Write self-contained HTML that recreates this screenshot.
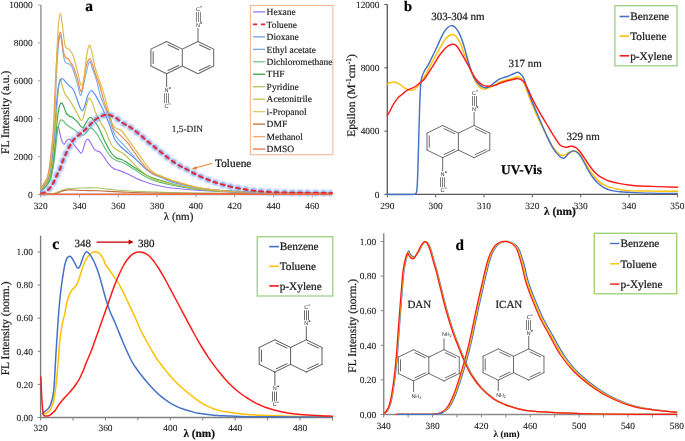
<!DOCTYPE html>
<html><head><meta charset="utf-8"><style>
html,body{margin:0;padding:0;background:#fff;}
body{width:685px;height:441px;overflow:hidden;font-family:"Liberation Serif",serif;}
svg{display:block;filter:blur(0.3px);}
text{text-rendering:geometricPrecision;}
</style></head><body>
<svg width="685" height="441" viewBox="0 0 685 441">
<defs>
<filter id="glow" x="-20%" y="-20%" width="140%" height="140%"><feGaussianBlur stdDeviation="1.3"/></filter>
</defs>
<rect width="685" height="441" fill="#fff"/>
<line x1="40.9" y1="5" x2="40.9" y2="195.3" stroke="#a0a0a0" stroke-width="1.6" />
<line x1="37.9" y1="194.5" x2="40.9" y2="194.5" stroke="#a0a0a0" stroke-width="1" />
<line x1="37.9" y1="156.6" x2="40.9" y2="156.6" stroke="#a0a0a0" stroke-width="1" />
<line x1="37.9" y1="118.7" x2="40.9" y2="118.7" stroke="#a0a0a0" stroke-width="1" />
<line x1="37.9" y1="80.8" x2="40.9" y2="80.8" stroke="#a0a0a0" stroke-width="1" />
<line x1="37.9" y1="42.9" x2="40.9" y2="42.9" stroke="#a0a0a0" stroke-width="1" />
<line x1="37.9" y1="5" x2="40.9" y2="5" stroke="#a0a0a0" stroke-width="1" />
<text x="32.6" y="197.7" font-size="9.4" text-anchor="end" font-weight="normal" fill="#1a1a1a" font-family="'Liberation Serif', serif" stroke="#1a1a1a" stroke-width="0.08" >0</text>
<text x="32.6" y="159.8" font-size="9.4" text-anchor="end" font-weight="normal" fill="#1a1a1a" font-family="'Liberation Serif', serif" stroke="#1a1a1a" stroke-width="0.08" >2000</text>
<text x="32.6" y="121.9" font-size="9.4" text-anchor="end" font-weight="normal" fill="#1a1a1a" font-family="'Liberation Serif', serif" stroke="#1a1a1a" stroke-width="0.08" >4000</text>
<text x="32.6" y="84" font-size="9.4" text-anchor="end" font-weight="normal" fill="#1a1a1a" font-family="'Liberation Serif', serif" stroke="#1a1a1a" stroke-width="0.08" >6000</text>
<text x="32.6" y="46.1" font-size="9.4" text-anchor="end" font-weight="normal" fill="#1a1a1a" font-family="'Liberation Serif', serif" stroke="#1a1a1a" stroke-width="0.08" >8000</text>
<text x="32.6" y="8.2" font-size="9.4" text-anchor="end" font-weight="normal" fill="#1a1a1a" font-family="'Liberation Serif', serif" stroke="#1a1a1a" stroke-width="0.08" >10000</text>
<line x1="40.1" y1="194.5" x2="331.9" y2="194.5" stroke="#a0a0a0" stroke-width="1.6" />
<line x1="40.7" y1="194.5" x2="40.7" y2="197.5" stroke="#a0a0a0" stroke-width="1" />
<line x1="79.49" y1="194.5" x2="79.49" y2="197.5" stroke="#a0a0a0" stroke-width="1" />
<line x1="118.28" y1="194.5" x2="118.28" y2="197.5" stroke="#a0a0a0" stroke-width="1" />
<line x1="157.07" y1="194.5" x2="157.07" y2="197.5" stroke="#a0a0a0" stroke-width="1" />
<line x1="195.86" y1="194.5" x2="195.86" y2="197.5" stroke="#a0a0a0" stroke-width="1" />
<line x1="234.65" y1="194.5" x2="234.65" y2="197.5" stroke="#a0a0a0" stroke-width="1" />
<line x1="273.44" y1="194.5" x2="273.44" y2="197.5" stroke="#a0a0a0" stroke-width="1" />
<line x1="312.23" y1="194.5" x2="312.23" y2="197.5" stroke="#a0a0a0" stroke-width="1" />
<text x="40.7" y="208.6" font-size="9.4" text-anchor="middle" font-weight="normal" fill="#1a1a1a" font-family="'Liberation Serif', serif" stroke="#1a1a1a" stroke-width="0.08" >320</text>
<text x="79.49" y="208.6" font-size="9.4" text-anchor="middle" font-weight="normal" fill="#1a1a1a" font-family="'Liberation Serif', serif" stroke="#1a1a1a" stroke-width="0.08" >340</text>
<text x="118.28" y="208.6" font-size="9.4" text-anchor="middle" font-weight="normal" fill="#1a1a1a" font-family="'Liberation Serif', serif" stroke="#1a1a1a" stroke-width="0.08" >360</text>
<text x="157.07" y="208.6" font-size="9.4" text-anchor="middle" font-weight="normal" fill="#1a1a1a" font-family="'Liberation Serif', serif" stroke="#1a1a1a" stroke-width="0.08" >380</text>
<text x="195.86" y="208.6" font-size="9.4" text-anchor="middle" font-weight="normal" fill="#1a1a1a" font-family="'Liberation Serif', serif" stroke="#1a1a1a" stroke-width="0.08" >400</text>
<text x="234.65" y="208.6" font-size="9.4" text-anchor="middle" font-weight="normal" fill="#1a1a1a" font-family="'Liberation Serif', serif" stroke="#1a1a1a" stroke-width="0.08" >420</text>
<text x="273.44" y="208.6" font-size="9.4" text-anchor="middle" font-weight="normal" fill="#1a1a1a" font-family="'Liberation Serif', serif" stroke="#1a1a1a" stroke-width="0.08" >440</text>
<text x="312.23" y="208.6" font-size="9.4" text-anchor="middle" font-weight="normal" fill="#1a1a1a" font-family="'Liberation Serif', serif" stroke="#1a1a1a" stroke-width="0.08" >460</text>
<path d="M40.9 194C42.42 193.97 47.72 193.93 50 193.8C52.28 193.67 52.93 193.67 54.6 193.2C56.27 192.73 58.05 191.7 60 191C61.95 190.3 63.55 189.47 66.3 189C69.05 188.53 73.38 188.37 76.5 188.2C79.62 188.03 81.83 188.07 85 188C88.17 187.93 92.17 187.68 95.5 187.8C98.83 187.92 102.08 188.38 105 188.7C107.92 189.02 109.33 189.35 113 189.7C116.67 190.05 122.5 190.48 127 190.8C131.5 191.12 132.83 191.3 140 191.6C147.17 191.9 156.67 192.32 170 192.6C183.33 192.88 193 193.1 220 193.3C247 193.5 313.33 193.72 332 193.8" fill="none" stroke="#aac462" stroke-width="1.15" stroke-linejoin="round" stroke-linecap="round" />
<path d="M40.9 194C43.25 193.95 51.5 194.17 55 193.7C58.5 193.23 59.53 191.83 61.9 191.2C64.27 190.57 65.55 190.02 69.2 189.9C72.85 189.78 78.93 190.35 83.8 190.5C88.67 190.65 91.1 190.52 98.4 190.8C105.7 191.08 115.67 191.8 127.6 192.2C139.53 192.6 135.93 192.93 170 193.2C204.07 193.47 305 193.7 332 193.8" fill="none" stroke="#c0703e" stroke-width="1.15" stroke-linejoin="round" stroke-linecap="round" />
<path d="M40.9 191C41.42 190.5 42.98 189.08 44 188C45.02 186.92 46.08 186 47 184.5C47.92 183 48.75 181.25 49.5 179C50.25 176.75 50.83 174.5 51.5 171C52.17 167.5 52.88 163 53.5 158C54.12 153 54.65 145.75 55.2 141C55.75 136.25 56.27 131.83 56.8 129.5C57.33 127.17 57.95 126.62 58.4 127C58.85 127.38 58.93 129.48 59.5 131.8C60.07 134.12 61.03 138.82 61.8 140.9C62.57 142.98 63.35 144.3 64.1 144.3C64.85 144.3 65.55 141.75 66.3 140.9C67.05 140.05 67.83 139.28 68.6 139.2C69.37 139.12 69.92 139.37 70.9 140.4C71.88 141.43 73.3 143.82 74.5 145.4C75.7 146.98 77.03 148.62 78.1 149.9C79.17 151.18 80.13 152.93 80.9 153.1C81.67 153.27 81.95 152.78 82.7 150.9C83.45 149.02 84.57 143.75 85.4 141.8C86.23 139.85 86.95 139.28 87.7 139.2C88.45 139.12 89.08 140.12 89.9 141.3C90.72 142.48 91.68 144.78 92.6 146.3C93.52 147.82 94.17 149.45 95.4 150.4C96.63 151.35 98.55 150.87 100 152C101.45 153.13 102.73 155.32 104.1 157.2C105.47 159.08 106.62 161.4 108.2 163.3C109.78 165.2 111.8 167.42 113.6 168.6C115.4 169.78 116.73 169.53 119 170.4C121.27 171.27 124.47 172.53 127.2 173.8C129.93 175.07 132.68 176.75 135.4 178C138.12 179.25 140.78 180.3 143.5 181.3C146.22 182.3 148.95 183.22 151.7 184C154.45 184.78 156.95 185.38 160 186C163.05 186.62 166.67 187.23 170 187.7C173.33 188.17 176.67 188.45 180 188.8C183.33 189.15 186.67 189.52 190 189.8C193.33 190.08 195.83 190.25 200 190.5C204.17 190.75 210 191.07 215 191.3C220 191.53 222.5 191.63 230 191.9C237.5 192.17 243 192.62 260 192.9C277 193.18 320 193.48 332 193.6" fill="none" stroke="#9b6ff2" stroke-width="1.15" stroke-linejoin="round" stroke-linecap="round" />
<path d="M40.9 191C41.42 190.58 42.98 189.42 44 188.5C45.02 187.58 46.08 186.67 47 185.5C47.92 184.33 48.75 183.08 49.5 181.5C50.25 179.92 50.83 178.58 51.5 176C52.17 173.42 52.83 170.33 53.5 166C54.17 161.67 54.83 155.67 55.5 150C56.17 144.33 56.83 136.67 57.5 132C58.17 127.33 58.88 124.02 59.5 122C60.12 119.98 60.53 120.05 61.2 119.9C61.87 119.75 62.65 120.33 63.5 121.1C64.35 121.87 65.27 123.57 66.3 124.5C67.33 125.43 68.57 125.95 69.7 126.7C70.83 127.45 71.77 128.05 73.1 129C74.43 129.95 76.18 131.37 77.7 132.4C79.22 133.43 80.98 134.92 82.2 135.2C83.42 135.48 83.87 135.13 85 134.1C86.13 133.07 87.95 130.03 89 129C90.05 127.97 90.35 127.52 91.3 127.9C92.25 128.28 93.67 130.15 94.7 131.3C95.73 132.45 96.62 133.52 97.5 134.8C98.38 136.08 98.68 136.63 100 139C101.32 141.37 103.58 146.03 105.4 149C107.22 151.97 109.08 154.87 110.9 156.8C112.72 158.73 114.48 159.7 116.3 160.6C118.12 161.5 119.98 161.48 121.8 162.2C123.62 162.92 124.93 163.58 127.2 164.9C129.47 166.22 132.68 168.32 135.4 170.1C138.12 171.88 140.78 174 143.5 175.6C146.22 177.2 148.95 178.57 151.7 179.7C154.45 180.83 156.95 181.55 160 182.4C163.05 183.25 166.67 184.07 170 184.8C173.33 185.53 176.67 186.18 180 186.8C183.33 187.42 186.67 188.03 190 188.5C193.33 188.97 195.83 189.2 200 189.6C204.17 190 210 190.57 215 190.9C220 191.23 222.5 191.28 230 191.6C237.5 191.92 243 192.48 260 192.8C277 193.12 320 193.38 332 193.5" fill="none" stroke="#62c07e" stroke-width="1.15" stroke-linejoin="round" stroke-linecap="round" />
<path d="M40.9 190.5C41.42 190 42.98 188.58 44 187.5C45.02 186.42 46.08 185.42 47 184C47.92 182.58 48.75 181 49.5 179C50.25 177 50.83 175.17 51.5 172C52.17 168.83 52.83 165.33 53.5 160C54.17 154.67 54.83 147 55.5 140C56.17 133 56.83 123.67 57.5 118C58.17 112.33 58.82 108.52 59.5 106C60.18 103.48 60.93 102.9 61.6 102.9C62.27 102.9 62.72 104.3 63.5 106C64.28 107.7 65.35 111.43 66.3 113.1C67.25 114.77 68.25 115.33 69.2 116C70.15 116.67 71.07 116.53 72 117.1C72.93 117.67 73.85 118.55 74.8 119.4C75.75 120.25 76.65 120.98 77.7 122.2C78.75 123.42 80.17 125.85 81.1 126.7C82.03 127.55 82.55 127.87 83.3 127.3C84.05 126.73 84.65 124.82 85.6 123.3C86.55 121.78 88.05 119.13 89 118.2C89.95 117.27 90.45 117.22 91.3 117.7C92.15 118.18 93.15 119.92 94.1 121.1C95.05 122.28 96.02 123.23 97 124.8C97.98 126.37 98.6 127.55 100 130.5C101.4 133.45 103.58 138.83 105.4 142.5C107.22 146.17 109.08 149.93 110.9 152.5C112.72 155.07 114.48 156.73 116.3 157.9C118.12 159.07 119.98 158.7 121.8 159.5C123.62 160.3 124.93 161.27 127.2 162.7C129.47 164.13 132.68 166.3 135.4 168.1C138.12 169.9 140.78 171.92 143.5 173.5C146.22 175.08 148.95 176.47 151.7 177.6C154.45 178.73 156.95 179.35 160 180.3C163.05 181.25 166.67 182.35 170 183.3C173.33 184.25 176.67 185.22 180 186C183.33 186.78 186.67 187.45 190 188C193.33 188.55 195.83 188.85 200 189.3C204.17 189.75 210 190.33 215 190.7C220 191.07 222.5 191.17 230 191.5C237.5 191.83 243 192.37 260 192.7C277 193.03 320 193.37 332 193.5" fill="none" stroke="#38a84a" stroke-width="1.15" stroke-linejoin="round" stroke-linecap="round" />
<path d="M40.9 190.5C41.42 189.92 42.98 188.25 44 187C45.02 185.75 46.08 184.67 47 183C47.92 181.33 48.75 179.5 49.5 177C50.25 174.5 50.83 172 51.5 168C52.17 164 52.83 159.33 53.5 153C54.17 146.67 54.83 138.83 55.5 130C56.17 121.17 56.92 107.67 57.5 100C58.08 92.33 58.53 87.5 59 84C59.47 80.5 59.68 78.4 60.3 79C60.92 79.6 61.85 85.03 62.7 87.6C63.55 90.17 64.27 92.33 65.4 94.4C66.53 96.47 68.28 98.17 69.5 100C70.72 101.83 71.45 103.23 72.7 105.4C73.95 107.57 75.55 110.48 77 113C78.45 115.52 80.23 120.17 81.4 120.5C82.57 120.83 83.07 117.92 84 115C84.93 112.08 86.17 105.82 87 103C87.83 100.18 88.17 98.27 89 98.1C89.83 97.93 91 99.8 92 102C93 104.2 93.7 108.17 95 111.3C96.3 114.43 98.07 117.6 99.8 120.8C101.53 124 103.78 127.15 105.4 130.5C107.02 133.85 108.13 138.03 109.5 140.9C110.87 143.77 112.02 146 113.6 147.7C115.18 149.4 117.18 149.97 119 151.1C120.82 152.23 122.45 152.8 124.5 154.5C126.55 156.2 129.03 159.03 131.3 161.3C133.57 163.57 135.6 165.83 138.1 168.1C140.6 170.37 143.58 172.97 146.3 174.9C149.02 176.83 152.12 178.68 154.4 179.7C156.68 180.72 157.4 180.37 160 181C162.6 181.63 166.67 182.7 170 183.5C173.33 184.3 176.67 185.08 180 185.8C183.33 186.52 186.67 187.23 190 187.8C193.33 188.37 195.83 188.73 200 189.2C204.17 189.67 210 190.22 215 190.6C220 190.98 222.5 191.15 230 191.5C237.5 191.85 243 192.37 260 192.7C277 193.03 320 193.37 332 193.5" fill="none" stroke="#c6bf48" stroke-width="1.15" stroke-linejoin="round" stroke-linecap="round" />
<path d="M40.9 190C41.42 189.33 42.98 187.5 44 186C45.02 184.5 46.08 183 47 181C47.92 179 48.75 177 49.5 174C50.25 171 50.83 167.67 51.5 163C52.17 158.33 52.88 153.17 53.5 146C54.12 138.83 54.62 128 55.2 120C55.78 112 56.37 104 57 98C57.63 92 58.15 87.23 59 84C59.85 80.77 61.13 79.13 62.1 78.6C63.07 78.07 63.78 79.75 64.8 80.8C65.82 81.85 67.18 83.88 68.2 84.9C69.22 85.92 70 86 70.9 86.9C71.8 87.8 72.58 88.28 73.6 90.3C74.62 92.32 75.93 96.13 77 99C78.07 101.87 79.07 105.53 80 107.5C80.93 109.47 81.77 111.22 82.6 110.8C83.43 110.38 84.1 107.63 85 105C85.9 102.37 86.92 97.38 88 95C89.08 92.62 90.33 90.77 91.5 90.7C92.67 90.63 93.62 92.5 95 94.6C96.38 96.7 98.22 100.25 99.8 103.3C101.38 106.35 102.92 109.45 104.5 112.9C106.08 116.35 107.97 120.57 109.3 124C110.63 127.43 111.58 130.92 112.5 133.5C113.42 136.08 113.55 137.42 114.8 139.5C116.05 141.58 118.3 144.17 120 146C121.7 147.83 122.52 148.42 125 150.5C127.48 152.58 131.58 155.58 134.9 158.5C138.22 161.42 141.55 165.33 144.9 168C148.25 170.67 151.32 172.5 155 174.5C158.68 176.5 163.67 178.58 167 180C170.33 181.42 169.5 181.63 175 183C180.5 184.37 190.83 186.88 200 188.2C209.17 189.52 218.33 190.18 230 190.9C241.67 191.62 253 192.08 270 192.5C287 192.92 321.67 193.25 332 193.4" fill="none" stroke="#5b8ff0" stroke-width="1.15" stroke-linejoin="round" stroke-linecap="round" />
<path d="M40.9 189C41.57 188.08 43.8 185.33 44.9 183.5C46 181.67 46.73 180.25 47.5 178C48.27 175.75 48.83 173.83 49.5 170C50.17 166.17 50.83 160.83 51.5 155C52.17 149.17 52.92 142.5 53.5 135C54.08 127.5 54.5 120 55 110C55.5 100 55.92 85.83 56.5 75C57.08 64.17 57.85 51.57 58.5 45C59.15 38.43 59.77 35.27 60.4 35.6C61.03 35.93 61.75 43.47 62.3 47C62.85 50.53 63.23 54.37 63.7 56.8C64.17 59.23 64.58 60.53 65.1 61.6C65.62 62.67 66.07 62.75 66.8 63.2C67.53 63.65 68.72 63.83 69.5 64.3C70.28 64.77 70.82 64.83 71.5 66C72.18 67.17 72.57 68.15 73.6 71.3C74.63 74.45 76.57 80.9 77.7 84.9C78.83 88.9 79.6 94.45 80.4 95.3C81.2 96.15 81.58 93.55 82.5 90C83.42 86.45 84.77 78.7 85.9 74C87.03 69.3 88.28 62.93 89.3 61.8C90.32 60.67 90.77 64.03 92 67.2C93.23 70.37 95.4 76.37 96.7 80.8C98 85.23 98.5 89.52 99.8 93.8C101.1 98.08 102.92 102.27 104.5 106.5C106.08 110.73 107.83 115.1 109.3 119.2C110.77 123.3 112.13 128.1 113.3 131.1C114.47 134.1 114.88 135.22 116.3 137.2C117.72 139.18 119.53 140.57 121.8 143C124.07 145.43 127.18 148.75 129.9 151.8C132.62 154.85 135.37 158.35 138.1 161.3C140.83 164.25 143.58 167.23 146.3 169.5C149.02 171.77 152.12 173.65 154.4 174.9C156.68 176.15 157.4 176.07 160 177C162.6 177.93 166.67 179.42 170 180.5C173.33 181.58 176.67 182.55 180 183.5C183.33 184.45 186.67 185.42 190 186.2C193.33 186.98 195.83 187.53 200 188.2C204.17 188.87 210 189.67 215 190.2C220 190.73 222.5 191 230 191.4C237.5 191.8 243 192.25 260 192.6C277 192.95 320 193.35 332 193.5" fill="none" stroke="#7fb0e6" stroke-width="1.15" stroke-linejoin="round" stroke-linecap="round" />
<path d="M40.9 188C41.57 187.02 43.8 183.95 44.9 182.1C46 180.25 46.78 179.2 47.5 176.9C48.22 174.6 48.63 172.03 49.2 168.3C49.77 164.57 50.32 159.68 50.9 154.5C51.48 149.32 52.2 142.95 52.7 137.2C53.2 131.45 53.43 129.53 53.9 120C54.37 110.47 54.9 92 55.5 80C56.1 68 56.68 55.97 57.5 48C58.32 40.03 59.42 31.65 60.4 32.2C61.38 32.75 62.57 47.1 63.4 51.3C64.23 55.5 64.62 56.17 65.4 57.4C66.18 58.63 67.18 57.77 68.1 58.7C69.02 59.63 69.98 61.58 70.9 63C71.82 64.42 72.47 64.45 73.6 67.2C74.73 69.95 76.57 75.62 77.7 79.5C78.83 83.38 79.62 89 80.4 90.5C81.18 92 81.48 92.38 82.4 88.5C83.32 84.62 84.75 72.12 85.9 67.2C87.05 62.28 88.28 59.68 89.3 59C90.32 58.32 90.98 60.6 92 63.1C93.02 65.6 94.15 70.35 95.4 74C96.65 77.65 98.12 80.63 99.5 85C100.88 89.37 102.47 96.08 103.7 100.2C104.93 104.32 105.7 106.27 106.9 109.7C108.1 113.13 109.72 117.53 110.9 120.8C112.08 124.07 112.95 127.4 114 129.3C115.05 131.2 116.13 131.18 117.2 132.2C118.27 133.22 118.73 133.73 120.4 135.4C122.07 137.07 124.93 139.47 127.2 142.2C129.47 144.93 131.73 148.62 134 151.8C136.27 154.98 138.53 158.35 140.8 161.3C143.07 164.25 145.33 167.35 147.6 169.5C149.87 171.65 152.33 173.07 154.4 174.2C156.47 175.33 157.4 175.33 160 176.3C162.6 177.27 166.67 178.88 170 180C173.33 181.12 176.67 182.03 180 183C183.33 183.97 186.67 184.97 190 185.8C193.33 186.63 195.83 187.28 200 188C204.17 188.72 210 189.53 215 190.1C220 190.67 222.5 190.98 230 191.4C237.5 191.82 243 192.25 260 192.6C277 192.95 320 193.35 332 193.5" fill="none" stroke="#f08a48" stroke-width="1.15" stroke-linejoin="round" stroke-linecap="round" />
<path d="M40.9 189.5C41.57 188.58 43.8 185.83 44.9 184C46 182.17 46.73 180.67 47.5 178.5C48.27 176.33 48.88 174.25 49.5 171C50.12 167.75 50.62 164 51.2 159C51.78 154 52.43 147.33 53 141C53.57 134.67 54.07 132.83 54.6 121C55.13 109.17 55.77 82.5 56.2 70C56.63 57.5 56.8 53.83 57.2 46C57.6 38.17 58.07 28.43 58.6 23C59.13 17.57 59.83 13.45 60.4 13.4C60.97 13.35 61.4 18.43 62 22.7C62.6 26.97 63.43 35.03 64 39C64.57 42.97 64.83 44.9 65.4 46.5C65.97 48.1 66.72 48.05 67.4 48.6C68.08 49.15 68.7 48.97 69.5 49.8C70.3 50.63 71.28 51.6 72.2 53.6C73.12 55.6 73.97 58.17 75 61.8C76.03 65.43 77.38 71.5 78.4 75.4C79.42 79.3 80.2 84.6 81.1 85.2C82 85.8 82.9 83.82 83.8 79C84.7 74.18 85.57 61.92 86.5 56.3C87.43 50.68 88.48 45.98 89.4 45.3C90.32 44.62 91.12 48.75 92 52.2C92.88 55.65 93.68 61.92 94.7 66C95.72 70.08 96.73 72.6 98.1 76.7C99.47 80.8 101.57 86.43 102.9 90.6C104.23 94.77 105.03 97.73 106.1 101.7C107.17 105.67 108.23 110.68 109.3 114.4C110.37 118.12 111.45 121.75 112.5 124C113.55 126.25 114.55 127.02 115.6 127.9C116.65 128.78 117.77 128.78 118.8 129.3C119.83 129.82 120.4 129.52 121.8 131C123.2 132.48 125.17 135.42 127.2 138.2C129.23 140.98 131.73 144.53 134 147.7C136.27 150.87 138.53 154.03 140.8 157.2C143.07 160.37 145.33 164.08 147.6 166.7C149.87 169.32 152.33 171.42 154.4 172.9C156.47 174.38 157.4 174.5 160 175.6C162.6 176.7 166.67 178.35 170 179.5C173.33 180.65 176.67 181.5 180 182.5C183.33 183.5 186.67 184.62 190 185.5C193.33 186.38 195.83 187.05 200 187.8C204.17 188.55 210 189.42 215 190C220 190.58 222.5 190.87 230 191.3C237.5 191.73 243 192.23 260 192.6C277 192.97 320 193.35 332 193.5" fill="none" stroke="#ddbb48" stroke-width="1.15" stroke-linejoin="round" stroke-linecap="round" />
<path d="M41 193.5C41.58 193.33 43.33 193.08 44.5 192.5C45.67 191.92 46.87 191.05 48 190C49.13 188.95 50.3 187.62 51.3 186.2C52.3 184.78 53.05 183.4 54 181.5C54.95 179.6 55.98 176.92 57 174.8C58.02 172.68 59.12 171.13 60.1 168.8C61.08 166.47 61.87 163.45 62.9 160.8C63.93 158.15 65.17 155.35 66.3 152.9C67.43 150.45 68.57 148.18 69.7 146.1C70.83 144.02 71.77 142.1 73.1 140.4C74.43 138.7 76 137.42 77.7 135.9C79.4 134.38 81.48 132.87 83.3 131.3C85.12 129.73 86.8 128.28 88.6 126.5C90.4 124.72 92.08 122.27 94.1 120.6C96.12 118.93 98.57 117.5 100.7 116.5C102.83 115.5 105.5 114.88 106.9 114.6C108.3 114.32 107.63 114.27 109.1 114.8C110.57 115.33 113.63 116.55 115.7 117.8C117.77 119.05 119.37 120.9 121.5 122.3C123.63 123.7 126.43 124.92 128.5 126.2C130.57 127.48 131.77 128.38 133.9 130C136.03 131.62 139.12 134.07 141.3 135.9C143.48 137.73 145.1 139.4 147 141C148.9 142.6 150.82 144 152.7 145.5C154.58 147 156.42 148.48 158.3 150C160.18 151.52 162.1 153.08 164 154.6C165.9 156.12 167.8 157.68 169.7 159.1C171.6 160.52 173.52 161.87 175.4 163.1C177.28 164.33 179.4 165.62 181 166.5C182.6 167.38 183.17 167.43 185 168.4C186.83 169.37 189.47 170.97 192 172.3C194.53 173.63 197.47 175.13 200.2 176.4C202.93 177.67 205.68 178.83 208.4 179.9C211.12 180.97 213.78 181.93 216.5 182.8C219.22 183.67 221.77 184.32 224.7 185.1C227.63 185.88 230.98 186.82 234.1 187.5C237.22 188.18 240.28 188.68 243.4 189.2C246.52 189.72 249.68 190.22 252.8 190.6C255.92 190.98 258.4 191.23 262.1 191.5C265.8 191.77 269.52 192 275 192.2C280.48 192.4 285.5 192.57 295 192.7C304.5 192.83 325.83 192.95 332 193" fill="none" stroke="#6f9cf2" stroke-width="5.4" stroke-dasharray="5.6 2.2" stroke-dashoffset="0.75" stroke-linecap="butt" opacity="0.9" filter="url(#glow)"/>
<path d="M41 193.5C41.58 193.33 43.33 193.08 44.5 192.5C45.67 191.92 46.87 191.05 48 190C49.13 188.95 50.3 187.62 51.3 186.2C52.3 184.78 53.05 183.4 54 181.5C54.95 179.6 55.98 176.92 57 174.8C58.02 172.68 59.12 171.13 60.1 168.8C61.08 166.47 61.87 163.45 62.9 160.8C63.93 158.15 65.17 155.35 66.3 152.9C67.43 150.45 68.57 148.18 69.7 146.1C70.83 144.02 71.77 142.1 73.1 140.4C74.43 138.7 76 137.42 77.7 135.9C79.4 134.38 81.48 132.87 83.3 131.3C85.12 129.73 86.8 128.28 88.6 126.5C90.4 124.72 92.08 122.27 94.1 120.6C96.12 118.93 98.57 117.5 100.7 116.5C102.83 115.5 105.5 114.88 106.9 114.6C108.3 114.32 107.63 114.27 109.1 114.8C110.57 115.33 113.63 116.55 115.7 117.8C117.77 119.05 119.37 120.9 121.5 122.3C123.63 123.7 126.43 124.92 128.5 126.2C130.57 127.48 131.77 128.38 133.9 130C136.03 131.62 139.12 134.07 141.3 135.9C143.48 137.73 145.1 139.4 147 141C148.9 142.6 150.82 144 152.7 145.5C154.58 147 156.42 148.48 158.3 150C160.18 151.52 162.1 153.08 164 154.6C165.9 156.12 167.8 157.68 169.7 159.1C171.6 160.52 173.52 161.87 175.4 163.1C177.28 164.33 179.4 165.62 181 166.5C182.6 167.38 183.17 167.43 185 168.4C186.83 169.37 189.47 170.97 192 172.3C194.53 173.63 197.47 175.13 200.2 176.4C202.93 177.67 205.68 178.83 208.4 179.9C211.12 180.97 213.78 181.93 216.5 182.8C219.22 183.67 221.77 184.32 224.7 185.1C227.63 185.88 230.98 186.82 234.1 187.5C237.22 188.18 240.28 188.68 243.4 189.2C246.52 189.72 249.68 190.22 252.8 190.6C255.92 190.98 258.4 191.23 262.1 191.5C265.8 191.77 269.52 192 275 192.2C280.48 192.4 285.5 192.57 295 192.7C304.5 192.83 325.83 192.95 332 193" fill="none" stroke="#e8262e" stroke-width="1.9" stroke-linejoin="round" stroke-linecap="round" stroke-dasharray="4.1 3.7" stroke-linecap="butt"/>
<line x1="40.9" y1="194.2" x2="331.9" y2="194.2" stroke="#ee6a48" stroke-width="1.4" />
<path d="M166.6 41.5 L150.9 49.15 M150.9 49.15 L150.9 66.05 M150.9 66.05 L166.6 73.7 M166.6 73.7 L182.3 66.05 M182.3 66.05 L182.3 49.15 M182.3 49.15 L166.6 41.5 M182.3 49.15 L198 41.5 M198 41.5 L213.7 49.15 M213.7 49.15 L213.7 66.05 M213.7 66.05 L198 73.7 M198 73.7 L182.3 66.05 M178.7 49.74 L167.94 44.7 M153.16 51.81 L153.16 63.39 M167.94 70.5 L178.7 65.46 M199.34 44.7 L210.1 49.74 M210.1 65.46 L199.34 70.5" fill="none" stroke="#686868" stroke-width="1.05" stroke-linecap="round"/>
<line x1="198" y1="41.5" x2="198" y2="27.9" stroke="#686868" stroke-width="1.05" />
<line x1="196.5" y1="22" x2="196.5" y2="12" stroke="#686868" stroke-width="0.8" />
<line x1="198.5" y1="22" x2="198.5" y2="12" stroke="#686868" stroke-width="0.8" />
<line x1="200.5" y1="22" x2="200.5" y2="12" stroke="#686868" stroke-width="0.8" />
<text x="197.9" y="26.98" font-size="5.5" text-anchor="middle" font-weight="normal" fill="#2a2a2a" font-family="'Liberation Sans', sans-serif" >N</text>
<line x1="200.2" y1="22.9" x2="202.2" y2="22.9" stroke="#222" stroke-width="0.6" />
<line x1="201.2" y1="21.9" x2="201.2" y2="23.9" stroke="#222" stroke-width="0.6" />
<text x="197.9" y="10.98" font-size="5.5" text-anchor="middle" font-weight="normal" fill="#2a2a2a" font-family="'Liberation Sans', sans-serif" >C</text>
<line x1="200" y1="6.8" x2="202" y2="6.8" stroke="#222" stroke-width="0.6" />
<line x1="166.6" y1="73.7" x2="166.6" y2="87.3" stroke="#686868" stroke-width="1.05" />
<line x1="164.5" y1="93.2" x2="164.5" y2="103.2" stroke="#686868" stroke-width="0.8" />
<line x1="166.5" y1="93.2" x2="166.5" y2="103.2" stroke="#686868" stroke-width="0.8" />
<line x1="168.5" y1="93.2" x2="168.5" y2="103.2" stroke="#686868" stroke-width="0.8" />
<text x="166.5" y="92.18" font-size="5.5" text-anchor="middle" font-weight="normal" fill="#2a2a2a" font-family="'Liberation Sans', sans-serif" >N</text>
<line x1="168.8" y1="88.1" x2="170.8" y2="88.1" stroke="#222" stroke-width="0.6" />
<line x1="169.8" y1="87.1" x2="169.8" y2="89.1" stroke="#222" stroke-width="0.6" />
<text x="166.5" y="108.18" font-size="5.5" text-anchor="middle" font-weight="normal" fill="#2a2a2a" font-family="'Liberation Sans', sans-serif" >C</text>
<line x1="168.6" y1="104" x2="170.6" y2="104" stroke="#222" stroke-width="0.6" />
<text x="85.3" y="11.3" font-size="15.5" text-anchor="start" font-weight="bold" fill="#000" font-family="'Liberation Serif', serif" stroke="#000" stroke-width="0.22" >a</text>
<text x="171.8" y="132.4" font-size="9.3" text-anchor="start" font-weight="normal" fill="#1a1a1a" font-family="'Liberation Serif', serif" stroke="#1a1a1a" stroke-width="0.14" >1,5-DIN</text>
<text x="215.1" y="166.6" font-size="11.3" text-anchor="start" font-weight="normal" fill="#1a1a1a" font-family="'Liberation Serif', serif" stroke="#1a1a1a" stroke-width="0.22" >Toluene</text>
<line x1="212.4" y1="163.3" x2="195" y2="168" stroke="#ed7d31" stroke-width="1" />
<path d="M191.6 169 L196.2 165.9 L196.9 169.4 Z" fill="#ed7d31"/>
<text x="0" y="0" font-size="11.5" text-anchor="middle" font-weight="normal" fill="#1a1a1a" font-family="'Liberation Serif', serif" stroke="#1a1a1a" stroke-width="0.22" transform="translate(9.3 112.3) rotate(-90)">FL Intensity (a.u.)</text>
<text x="178.6" y="220.4" font-size="11" text-anchor="middle" font-weight="normal" fill="#1a1a1a" font-family="'Liberation Serif', serif" stroke="#1a1a1a" stroke-width="0.22" >&#955; (nm)</text>
<rect x="250.4" y="5.5" width="82.4" height="149.2" fill="#fff" stroke="#f5b99a" stroke-width="1.1"/>
<line x1="253" y1="11.9" x2="265.2" y2="11.9" stroke="#9c78f2" stroke-width="1.3" />
<text x="266.6" y="15.1" font-size="9.5" text-anchor="start" font-weight="normal" fill="#1a1a1a" font-family="'Liberation Serif', serif" stroke="#1a1a1a" stroke-width="0.16" >Hexane</text>
<line x1="253" y1="24.37" x2="265.2" y2="24.37" stroke="#e8262e" stroke-width="1.6" stroke-dasharray="4.2 3.8"/>
<text x="266.6" y="27.57" font-size="9.5" text-anchor="start" font-weight="normal" fill="#1a1a1a" font-family="'Liberation Serif', serif" stroke="#1a1a1a" stroke-width="0.16" >Toluene</text>
<line x1="253" y1="36.84" x2="265.2" y2="36.84" stroke="#6f9cf2" stroke-width="1.3" />
<text x="266.6" y="40.04" font-size="9.5" text-anchor="start" font-weight="normal" fill="#1a1a1a" font-family="'Liberation Serif', serif" stroke="#1a1a1a" stroke-width="0.16" >Dioxane</text>
<line x1="253" y1="49.31" x2="265.2" y2="49.31" stroke="#78abe2" stroke-width="1.3" />
<text x="266.6" y="52.51" font-size="9.5" text-anchor="start" font-weight="normal" fill="#1a1a1a" font-family="'Liberation Serif', serif" stroke="#1a1a1a" stroke-width="0.16" >Ethyl acetate</text>
<line x1="253" y1="61.78" x2="265.2" y2="61.78" stroke="#72c68c" stroke-width="1.3" />
<text x="266.6" y="64.98" font-size="9.5" text-anchor="start" font-weight="normal" fill="#1a1a1a" font-family="'Liberation Serif', serif" stroke="#1a1a1a" stroke-width="0.16" >Dichloromethane</text>
<line x1="253" y1="74.25" x2="265.2" y2="74.25" stroke="#38a440" stroke-width="1.3" />
<text x="266.6" y="77.45" font-size="9.5" text-anchor="start" font-weight="normal" fill="#1a1a1a" font-family="'Liberation Serif', serif" stroke="#1a1a1a" stroke-width="0.16" >THF</text>
<line x1="253" y1="86.72" x2="265.2" y2="86.72" stroke="#a8c462" stroke-width="1.3" />
<text x="266.6" y="89.92" font-size="9.5" text-anchor="start" font-weight="normal" fill="#1a1a1a" font-family="'Liberation Serif', serif" stroke="#1a1a1a" stroke-width="0.16" >Pyridine</text>
<line x1="253" y1="99.19" x2="265.2" y2="99.19" stroke="#c4c044" stroke-width="1.3" />
<text x="266.6" y="102.39" font-size="9.5" text-anchor="start" font-weight="normal" fill="#1a1a1a" font-family="'Liberation Serif', serif" stroke="#1a1a1a" stroke-width="0.16" >Acetonitrile</text>
<line x1="253" y1="111.66" x2="265.2" y2="111.66" stroke="#e2c86e" stroke-width="1.3" />
<text x="266.6" y="114.86" font-size="9.5" text-anchor="start" font-weight="normal" fill="#1a1a1a" font-family="'Liberation Serif', serif" stroke="#1a1a1a" stroke-width="0.16" >i-Propanol</text>
<line x1="253" y1="124.13" x2="265.2" y2="124.13" stroke="#c0703a" stroke-width="1.3" />
<text x="266.6" y="127.33" font-size="9.5" text-anchor="start" font-weight="normal" fill="#1a1a1a" font-family="'Liberation Serif', serif" stroke="#1a1a1a" stroke-width="0.16" >DMF</text>
<line x1="253" y1="136.6" x2="265.2" y2="136.6" stroke="#f4a672" stroke-width="1.3" />
<text x="266.6" y="139.8" font-size="9.5" text-anchor="start" font-weight="normal" fill="#1a1a1a" font-family="'Liberation Serif', serif" stroke="#1a1a1a" stroke-width="0.16" >Methanol</text>
<line x1="253" y1="149.07" x2="265.2" y2="149.07" stroke="#ec6c4a" stroke-width="1.3" />
<text x="266.6" y="152.27" font-size="9.5" text-anchor="start" font-weight="normal" fill="#1a1a1a" font-family="'Liberation Serif', serif" stroke="#1a1a1a" stroke-width="0.16" >DMSO</text>
<line x1="387.3" y1="4.5" x2="387.3" y2="195.05" stroke="#595959" stroke-width="1.3" />
<line x1="384.3" y1="194.4" x2="387.3" y2="194.4" stroke="#595959" stroke-width="1" />
<line x1="384.3" y1="131.1" x2="387.3" y2="131.1" stroke="#595959" stroke-width="1" />
<line x1="384.3" y1="67.8" x2="387.3" y2="67.8" stroke="#595959" stroke-width="1" />
<line x1="384.3" y1="4.5" x2="387.3" y2="4.5" stroke="#595959" stroke-width="1" />
<text x="379.4" y="197.6" font-size="9.4" text-anchor="end" font-weight="normal" fill="#1a1a1a" font-family="'Liberation Serif', serif" stroke="#1a1a1a" stroke-width="0.08" >0</text>
<text x="379.4" y="134.3" font-size="9.4" text-anchor="end" font-weight="normal" fill="#1a1a1a" font-family="'Liberation Serif', serif" stroke="#1a1a1a" stroke-width="0.08" >4000</text>
<text x="379.4" y="71" font-size="9.4" text-anchor="end" font-weight="normal" fill="#1a1a1a" font-family="'Liberation Serif', serif" stroke="#1a1a1a" stroke-width="0.08" >8000</text>
<text x="379.4" y="7.7" font-size="9.4" text-anchor="end" font-weight="normal" fill="#1a1a1a" font-family="'Liberation Serif', serif" stroke="#1a1a1a" stroke-width="0.08" >12000</text>
<line x1="386.65" y1="194.4" x2="677.4" y2="194.4" stroke="#595959" stroke-width="1.3" />
<line x1="387.3" y1="194.4" x2="387.3" y2="197.4" stroke="#595959" stroke-width="1" />
<line x1="435.65" y1="194.4" x2="435.65" y2="197.4" stroke="#595959" stroke-width="1" />
<line x1="484" y1="194.4" x2="484" y2="197.4" stroke="#595959" stroke-width="1" />
<line x1="532.35" y1="194.4" x2="532.35" y2="197.4" stroke="#595959" stroke-width="1" />
<line x1="580.7" y1="194.4" x2="580.7" y2="197.4" stroke="#595959" stroke-width="1" />
<line x1="629.05" y1="194.4" x2="629.05" y2="197.4" stroke="#595959" stroke-width="1" />
<line x1="677.4" y1="194.4" x2="677.4" y2="197.4" stroke="#595959" stroke-width="1" />
<text x="387.3" y="208.6" font-size="9.4" text-anchor="middle" font-weight="normal" fill="#1a1a1a" font-family="'Liberation Serif', serif" stroke="#1a1a1a" stroke-width="0.08" >290</text>
<text x="435.65" y="208.6" font-size="9.4" text-anchor="middle" font-weight="normal" fill="#1a1a1a" font-family="'Liberation Serif', serif" stroke="#1a1a1a" stroke-width="0.08" >300</text>
<text x="484" y="208.6" font-size="9.4" text-anchor="middle" font-weight="normal" fill="#1a1a1a" font-family="'Liberation Serif', serif" stroke="#1a1a1a" stroke-width="0.08" >310</text>
<text x="532.35" y="208.6" font-size="9.4" text-anchor="middle" font-weight="normal" fill="#1a1a1a" font-family="'Liberation Serif', serif" stroke="#1a1a1a" stroke-width="0.08" >320</text>
<text x="580.7" y="208.6" font-size="9.4" text-anchor="middle" font-weight="normal" fill="#1a1a1a" font-family="'Liberation Serif', serif" stroke="#1a1a1a" stroke-width="0.08" >330</text>
<text x="629.05" y="208.6" font-size="9.4" text-anchor="middle" font-weight="normal" fill="#1a1a1a" font-family="'Liberation Serif', serif" stroke="#1a1a1a" stroke-width="0.08" >340</text>
<text x="677.4" y="208.6" font-size="9.4" text-anchor="middle" font-weight="normal" fill="#1a1a1a" font-family="'Liberation Serif', serif" stroke="#1a1a1a" stroke-width="0.08" >350</text>
<path d="M387.3 83.8C387.75 83.63 389.07 83.08 390 82.8C390.93 82.52 391.9 82.15 392.9 82.1C393.9 82.05 394.82 82.1 396 82.5C397.18 82.9 398.67 83.67 400 84.5C401.33 85.33 402.8 86.67 404 87.5C405.2 88.33 406.2 89.08 407.2 89.5C408.2 89.92 409.17 89.88 410 90C410.83 90.12 411.37 90.37 412.2 90.2C413.03 90.03 413.98 89.77 415 89C416.02 88.23 417.25 86.7 418.3 85.6C419.35 84.5 420.33 83.82 421.3 82.4C422.27 80.98 422.9 79.33 424.1 77.1C425.3 74.87 426.92 71.93 428.5 69C430.08 66.07 431.62 63.13 433.6 59.5C435.58 55.87 438.37 50.72 440.4 47.2C442.43 43.68 443.98 40.48 445.8 38.4C447.62 36.32 449.6 35.05 451.3 34.7C453 34.35 454.42 34.67 456 36.3C457.58 37.93 459.6 42.07 460.8 44.5C462 46.93 461.9 47.57 463.2 50.9C464.5 54.23 467.02 60.42 468.6 64.5C470.18 68.58 471.33 72.23 472.7 75.4C474.07 78.57 475.22 81.27 476.8 83.5C478.38 85.73 480.38 88 482.2 88.8C484.02 89.6 485.57 88.95 487.7 88.3C489.83 87.65 493.12 85.88 495 84.9C496.88 83.92 497.33 83.13 499 82.4C500.67 81.67 502.83 81.15 505 80.5C507.17 79.85 509.85 79.12 512 78.5C514.15 77.88 516.4 76.8 517.9 76.8C519.4 76.8 519.98 77.47 521 78.5C522.02 79.53 522.82 80.42 524 83C525.18 85.58 526.6 90.08 528.1 94C529.6 97.92 531.1 101.97 533 106.5C534.9 111.03 537.28 116.48 539.5 121.2C541.72 125.92 544.03 130.45 546.3 134.8C548.57 139.15 550.82 143.98 553.1 147.3C555.38 150.62 558.17 153.35 560 154.7C561.83 156.05 562.73 155.73 564.1 155.4C565.47 155.07 566.73 153.42 568.2 152.7C569.67 151.98 571.32 151.22 572.9 151.1C574.48 150.98 576.22 151.05 577.7 152C579.18 152.95 580.22 154.42 581.8 156.8C583.38 159.18 585.38 163.35 587.2 166.3C589.02 169.25 590.88 172.12 592.7 174.5C594.52 176.88 596.3 178.9 598.1 180.6C599.9 182.3 601.52 183.57 603.5 184.7C605.48 185.83 607.25 186.6 610 187.4C612.75 188.2 616.87 188.97 620 189.5C623.13 190.03 623.8 190.33 628.8 190.6C633.8 190.87 641.9 190.98 650 191.1C658.1 191.22 672.83 191.27 677.4 191.3" fill="none" stroke="#ffc000" stroke-width="1.45" stroke-linejoin="round" stroke-linecap="round" />
<path d="M387.3 194.4C391.42 194.4 407.47 194.43 412 194.4C416.53 194.37 413.83 194.37 414.5 194.2C415.17 194.03 415.58 194.27 416 193.4C416.42 192.53 416.7 192.57 417 189C417.3 185.43 417.52 180.17 417.8 172C418.08 163.83 418.4 150.67 418.7 140C419 129.33 419.3 116.67 419.6 108C419.9 99.33 420.18 92.92 420.5 88C420.82 83.08 420.9 81.25 421.5 78.5C422.1 75.75 422.98 73.77 424.1 71.5C425.22 69.23 426.62 67.82 428.2 64.9C429.78 61.98 431.8 57.75 433.6 54C435.4 50.25 437.42 45.8 439 42.4C440.58 39 441.73 36.02 443.1 33.6C444.47 31.18 445.83 29.23 447.2 27.9C448.57 26.57 449.95 25.67 451.3 25.6C452.65 25.53 453.95 26.17 455.3 27.5C456.65 28.83 458.03 30.77 459.4 33.6C460.77 36.43 462.23 40.6 463.5 44.5C464.77 48.4 465.92 53.22 467 57C468.08 60.78 468.83 63.8 470 67.2C471.17 70.6 472.65 74.68 474 77.4C475.35 80.12 476.5 81.83 478.1 83.5C479.7 85.17 481.78 86.83 483.6 87.4C485.42 87.97 487.1 87.77 489 86.9C490.9 86.03 493.33 83.45 495 82.2C496.67 80.95 497.5 80.18 499 79.4C500.5 78.62 502.5 78.03 504 77.5C505.5 76.97 506.5 76.78 508 76.2C509.5 75.62 511.35 74.65 513 74C514.65 73.35 516.57 72.22 517.9 72.3C519.23 72.38 520.05 73.53 521 74.5C521.95 75.47 522.42 75.32 523.6 78.1C524.78 80.88 526.58 87.03 528.1 91.2C529.62 95.37 530.8 98.47 532.7 103.1C534.6 107.73 537.23 113.72 539.5 119C541.77 124.28 544.03 129.9 546.3 134.8C548.57 139.7 550.82 144.73 553.1 148.4C555.38 152.07 558.17 155.18 560 156.8C561.83 158.42 562.73 158.57 564.1 158.1C565.47 157.63 566.73 155.2 568.2 154C569.67 152.8 571.32 151.12 572.9 150.9C574.48 150.68 576.22 151.5 577.7 152.7C579.18 153.9 580.22 155.5 581.8 158.1C583.38 160.7 585.38 165.12 587.2 168.3C589.02 171.48 590.88 174.7 592.7 177.2C594.52 179.7 596.3 181.6 598.1 183.3C599.9 185 601.52 186.27 603.5 187.4C605.48 188.53 607.25 189.38 610 190.1C612.75 190.82 616.87 191.33 620 191.7C623.13 192.07 623.8 192.07 628.8 192.3C633.8 192.53 641.9 192.92 650 193.1C658.1 193.28 672.83 193.35 677.4 193.4" fill="none" stroke="#4472c4" stroke-width="1.45" stroke-linejoin="round" stroke-linecap="round" />
<path d="M387.3 115.6C387.75 114.83 389.05 112.77 390 111C390.95 109.23 391.72 107.15 393 105C394.28 102.85 396.2 99.85 397.7 98.1C399.2 96.35 400.42 95.82 402 94.5C403.58 93.18 405.5 91.25 407.2 90.2C408.9 89.15 410.73 88.9 412.2 88.2C413.67 87.5 414.72 86.88 416 86C417.28 85.12 418.55 83.98 419.9 82.9C421.25 81.82 422.67 81.18 424.1 79.5C425.53 77.82 426.92 75.23 428.5 72.8C430.08 70.37 431.62 68.03 433.6 64.9C435.58 61.77 438.13 57.07 440.4 54C442.67 50.93 445.17 48.13 447.2 46.5C449.23 44.87 451.08 44.35 452.6 44.2C454.12 44.05 455 44.37 456.3 45.6C457.6 46.83 459.03 49.42 460.4 51.6C461.77 53.78 463.13 56.32 464.5 58.7C465.87 61.08 467.23 63.35 468.6 65.9C469.97 68.45 471.33 71.63 472.7 74C474.07 76.37 475.22 78.28 476.8 80.1C478.38 81.92 480.38 83.87 482.2 84.9C484.02 85.93 485.57 86.22 487.7 86.3C489.83 86.38 493.12 85.87 495 85.4C496.88 84.93 497.33 84.15 499 83.5C500.67 82.85 502.83 82.12 505 81.5C507.17 80.88 509.85 80.28 512 79.8C514.15 79.32 515.97 78.32 517.9 78.6C519.83 78.88 521.9 79.68 523.6 81.5C525.3 83.32 526.58 86.47 528.1 89.5C529.62 92.53 530.8 95.92 532.7 99.7C534.6 103.48 537.23 108.23 539.5 112.2C541.77 116.17 544.03 119.73 546.3 123.5C548.57 127.27 550.82 131.22 553.1 134.8C555.38 138.38 557.95 142.93 560 145C562.05 147.07 563.58 147 565.4 147.2C567.22 147.4 569.3 146.2 570.9 146.2C572.5 146.2 573.65 146.47 575 147.2C576.35 147.93 577.42 148.78 579 150.6C580.58 152.42 582.68 155.48 584.5 158.1C586.32 160.72 588.08 163.8 589.9 166.3C591.72 168.8 593.58 171.28 595.4 173.1C597.22 174.92 598.98 176.07 600.8 177.2C602.62 178.33 604.77 179.22 606.3 179.9C607.83 180.58 607.72 180.68 610 181.3C612.28 181.92 616.87 182.98 620 183.6C623.13 184.22 625.47 184.6 628.8 185C632.13 185.4 631.9 185.63 640 186C648.1 186.37 671.17 187 677.4 187.2" fill="none" stroke="#ff1a1a" stroke-width="1.45" stroke-linejoin="round" stroke-linecap="round" />
<path d="M442.7 125.5 L427 133.15 M427 133.15 L427 150.05 M427 150.05 L442.7 157.7 M442.7 157.7 L458.4 150.05 M458.4 150.05 L458.4 133.15 M458.4 133.15 L442.7 125.5 M458.4 133.15 L474.1 125.5 M474.1 125.5 L489.8 133.15 M489.8 133.15 L489.8 150.05 M489.8 150.05 L474.1 157.7 M474.1 157.7 L458.4 150.05 M454.8 133.74 L444.04 128.7 M429.26 135.81 L429.26 147.39 M444.04 154.5 L454.8 149.46 M475.44 128.7 L486.2 133.74 M486.2 149.46 L475.44 154.5" fill="none" stroke="#5a5a5a" stroke-width="0.9" stroke-linecap="round"/>
<line x1="474.1" y1="125.5" x2="474.1" y2="111.9" stroke="#5a5a5a" stroke-width="0.9" />
<line x1="472.5" y1="106" x2="472.5" y2="96" stroke="#5a5a5a" stroke-width="0.8" />
<line x1="474.5" y1="106" x2="474.5" y2="96" stroke="#5a5a5a" stroke-width="0.8" />
<line x1="476.5" y1="106" x2="476.5" y2="96" stroke="#5a5a5a" stroke-width="0.8" />
<text x="474" y="110.98" font-size="5.5" text-anchor="middle" font-weight="normal" fill="#2a2a2a" font-family="'Liberation Sans', sans-serif" >N</text>
<line x1="476.3" y1="106.9" x2="478.3" y2="106.9" stroke="#222" stroke-width="0.6" />
<line x1="477.3" y1="105.9" x2="477.3" y2="107.9" stroke="#222" stroke-width="0.6" />
<text x="474" y="94.98" font-size="5.5" text-anchor="middle" font-weight="normal" fill="#2a2a2a" font-family="'Liberation Sans', sans-serif" >C</text>
<line x1="476.1" y1="90.8" x2="478.1" y2="90.8" stroke="#222" stroke-width="0.6" />
<line x1="442.7" y1="157.7" x2="442.7" y2="171.3" stroke="#5a5a5a" stroke-width="0.9" />
<line x1="440.5" y1="177.2" x2="440.5" y2="187.2" stroke="#5a5a5a" stroke-width="0.8" />
<line x1="442.5" y1="177.2" x2="442.5" y2="187.2" stroke="#5a5a5a" stroke-width="0.8" />
<line x1="444.5" y1="177.2" x2="444.5" y2="187.2" stroke="#5a5a5a" stroke-width="0.8" />
<text x="442.6" y="176.18" font-size="5.5" text-anchor="middle" font-weight="normal" fill="#2a2a2a" font-family="'Liberation Sans', sans-serif" >N</text>
<line x1="444.9" y1="172.1" x2="446.9" y2="172.1" stroke="#222" stroke-width="0.6" />
<line x1="445.9" y1="171.1" x2="445.9" y2="173.1" stroke="#222" stroke-width="0.6" />
<text x="442.6" y="192.18" font-size="5.5" text-anchor="middle" font-weight="normal" fill="#2a2a2a" font-family="'Liberation Sans', sans-serif" >C</text>
<line x1="444.7" y1="188" x2="446.7" y2="188" stroke="#222" stroke-width="0.6" />
<text x="404" y="10.6" font-size="14.5" text-anchor="start" font-weight="bold" fill="#000" font-family="'Liberation Serif', serif" stroke="#000" stroke-width="0.22" >b</text>
<text x="431.2" y="20" font-size="11" text-anchor="start" font-weight="normal" fill="#1a1a1a" font-family="'Liberation Serif', serif" stroke="#1a1a1a" stroke-width="0.22" >303-304 nm</text>
<text x="508.5" y="67.2" font-size="11" text-anchor="start" font-weight="normal" fill="#1a1a1a" font-family="'Liberation Serif', serif" stroke="#1a1a1a" stroke-width="0.22" >317 nm</text>
<text x="566.4" y="140.4" font-size="11" text-anchor="start" font-weight="normal" fill="#1a1a1a" font-family="'Liberation Serif', serif" stroke="#1a1a1a" stroke-width="0.22" >329 nm</text>
<text x="501" y="173.7" font-size="13.4" text-anchor="start" font-weight="bold" fill="#000" font-family="'Liberation Serif', serif" stroke="#000" stroke-width="0.22" >UV-Vis</text>
<text x="0" y="0" font-size="11.5" text-anchor="middle" font-weight="normal" fill="#1a1a1a" font-family="'Liberation Serif', serif" stroke="#1a1a1a" stroke-width="0.22" transform="translate(355.3 95.45) rotate(-90)">Epsilon (M<tspan font-size="7.5" dy="-4.2">-1</tspan><tspan dy="4.2">cm</tspan><tspan font-size="7.5" dy="-4.2">-1</tspan><tspan dy="4.2">)</tspan></text>
<text x="559.9" y="214.9" font-size="11.4" text-anchor="middle" font-weight="bold" fill="#111" font-family="'Liberation Serif', serif" stroke="#111" stroke-width="0.22" >&#955; (nm)</text>
<rect x="614.9" y="5.7" width="62.1" height="60.1" fill="#fff" stroke="#9fcf84" stroke-width="1.3"/>
<line x1="619.6" y1="16.5" x2="629.3" y2="16.5" stroke="#4472c4" stroke-width="1.6" />
<text x="630.2" y="20.3" font-size="11.3" text-anchor="start" font-weight="normal" fill="#1a1a1a" font-family="'Liberation Serif', serif" stroke="#1a1a1a" stroke-width="0.22" >Benzene</text>
<line x1="619.6" y1="36.15" x2="629.3" y2="36.15" stroke="#ffc000" stroke-width="1.6" />
<text x="630.2" y="39.95" font-size="11.3" text-anchor="start" font-weight="normal" fill="#1a1a1a" font-family="'Liberation Serif', serif" stroke="#1a1a1a" stroke-width="0.22" >Toluene</text>
<line x1="619.6" y1="55.8" x2="629.3" y2="55.8" stroke="#ff1a1a" stroke-width="1.6" />
<text x="630.2" y="59.6" font-size="11.3" text-anchor="start" font-weight="normal" fill="#1a1a1a" font-family="'Liberation Serif', serif" stroke="#1a1a1a" stroke-width="0.22" >p-Xylene</text>
<line x1="40.6" y1="235.6" x2="40.6" y2="418.2" stroke="#7f7f7f" stroke-width="1.4" />
<line x1="37.6" y1="417.5" x2="40.6" y2="417.5" stroke="#7f7f7f" stroke-width="1" />
<line x1="37.6" y1="384.4" x2="40.6" y2="384.4" stroke="#7f7f7f" stroke-width="1" />
<line x1="37.6" y1="351.3" x2="40.6" y2="351.3" stroke="#7f7f7f" stroke-width="1" />
<line x1="37.6" y1="318.2" x2="40.6" y2="318.2" stroke="#7f7f7f" stroke-width="1" />
<line x1="37.6" y1="285.1" x2="40.6" y2="285.1" stroke="#7f7f7f" stroke-width="1" />
<line x1="37.6" y1="252" x2="40.6" y2="252" stroke="#7f7f7f" stroke-width="1" />
<text x="32.9" y="420.7" font-size="9.4" text-anchor="end" font-weight="normal" fill="#1a1a1a" font-family="'Liberation Serif', serif" stroke="#1a1a1a" stroke-width="0.08" >0.00</text>
<text x="32.9" y="387.6" font-size="9.4" text-anchor="end" font-weight="normal" fill="#1a1a1a" font-family="'Liberation Serif', serif" stroke="#1a1a1a" stroke-width="0.08" >0.20</text>
<text x="32.9" y="354.5" font-size="9.4" text-anchor="end" font-weight="normal" fill="#1a1a1a" font-family="'Liberation Serif', serif" stroke="#1a1a1a" stroke-width="0.08" >0.40</text>
<text x="32.9" y="321.4" font-size="9.4" text-anchor="end" font-weight="normal" fill="#1a1a1a" font-family="'Liberation Serif', serif" stroke="#1a1a1a" stroke-width="0.08" >0.60</text>
<text x="32.9" y="288.3" font-size="9.4" text-anchor="end" font-weight="normal" fill="#1a1a1a" font-family="'Liberation Serif', serif" stroke="#1a1a1a" stroke-width="0.08" >0.80</text>
<text x="32.9" y="255.2" font-size="9.4" text-anchor="end" font-weight="normal" fill="#1a1a1a" font-family="'Liberation Serif', serif" stroke="#1a1a1a" stroke-width="0.08" >1.00</text>
<line x1="39.9" y1="417.5" x2="332.5" y2="417.5" stroke="#7f7f7f" stroke-width="1.4" />
<line x1="40.6" y1="417.5" x2="40.6" y2="420.5" stroke="#7f7f7f" stroke-width="1" />
<line x1="73.03" y1="417.5" x2="73.03" y2="420.5" stroke="#7f7f7f" stroke-width="1" />
<line x1="105.47" y1="417.5" x2="105.47" y2="420.5" stroke="#7f7f7f" stroke-width="1" />
<line x1="137.9" y1="417.5" x2="137.9" y2="420.5" stroke="#7f7f7f" stroke-width="1" />
<line x1="170.34" y1="417.5" x2="170.34" y2="420.5" stroke="#7f7f7f" stroke-width="1" />
<line x1="202.77" y1="417.5" x2="202.77" y2="420.5" stroke="#7f7f7f" stroke-width="1" />
<line x1="235.2" y1="417.5" x2="235.2" y2="420.5" stroke="#7f7f7f" stroke-width="1" />
<line x1="267.64" y1="417.5" x2="267.64" y2="420.5" stroke="#7f7f7f" stroke-width="1" />
<line x1="300.07" y1="417.5" x2="300.07" y2="420.5" stroke="#7f7f7f" stroke-width="1" />
<line x1="332.51" y1="417.5" x2="332.51" y2="420.5" stroke="#7f7f7f" stroke-width="1" />
<text x="40.6" y="431.4" font-size="9.4" text-anchor="middle" font-weight="normal" fill="#1a1a1a" font-family="'Liberation Serif', serif" stroke="#1a1a1a" stroke-width="0.08" >320</text>
<text x="105.47" y="431.4" font-size="9.4" text-anchor="middle" font-weight="normal" fill="#1a1a1a" font-family="'Liberation Serif', serif" stroke="#1a1a1a" stroke-width="0.08" >360</text>
<text x="170.34" y="431.4" font-size="9.4" text-anchor="middle" font-weight="normal" fill="#1a1a1a" font-family="'Liberation Serif', serif" stroke="#1a1a1a" stroke-width="0.08" >400</text>
<text x="235.2" y="431.4" font-size="9.4" text-anchor="middle" font-weight="normal" fill="#1a1a1a" font-family="'Liberation Serif', serif" stroke="#1a1a1a" stroke-width="0.08" >440</text>
<text x="300.07" y="431.4" font-size="9.4" text-anchor="middle" font-weight="normal" fill="#1a1a1a" font-family="'Liberation Serif', serif" stroke="#1a1a1a" stroke-width="0.08" >480</text>
<path d="M42.5 414C42.83 413.95 43.75 413.95 44.5 413.7C45.25 413.45 46.08 413.07 47 412.5C47.92 411.93 49.17 411.38 50 410.3C50.83 409.22 51.33 407.8 52 406C52.67 404.2 53.42 402.27 54 399.5C54.58 396.73 55.03 392.98 55.5 389.4C55.97 385.82 56.32 383.23 56.8 378C57.28 372.77 57.95 363.67 58.4 358C58.85 352.33 59.1 348.17 59.5 344C59.9 339.83 60.3 336.5 60.8 333C61.3 329.5 61.8 326.4 62.5 323C63.2 319.6 64.25 316.1 65 312.6C65.75 309.1 66.25 305.03 67 302C67.75 298.97 68.67 296.4 69.5 294.4C70.33 292.4 70.87 291.5 72 290C73.13 288.5 75.13 287.23 76.3 285.4C77.47 283.57 78.05 281.65 79 279C79.95 276.35 81.08 272.25 82 269.5C82.92 266.75 83.57 264.58 84.5 262.5C85.43 260.42 86.52 258.5 87.6 257C88.68 255.5 90.02 254.33 91 253.5C91.98 252.67 92.73 252.28 93.5 252C94.27 251.72 94.85 251.72 95.6 251.8C96.35 251.88 97.27 252.13 98 252.5C98.73 252.87 99.08 252.87 100 254C100.92 255.13 102.53 257.47 103.5 259.3C104.47 261.13 104.45 262.7 105.8 265C107.15 267.3 109.35 269.82 111.6 273.1C113.85 276.38 116.73 280.2 119.3 284.7C121.87 289.2 124.43 294.8 127 300.1C129.57 305.4 132.47 311.6 134.7 316.5C136.93 321.4 138.77 326 140.4 329.5C142.03 333 143.13 334.92 144.5 337.5C145.87 340.08 147.25 342.58 148.6 345C149.95 347.42 151.25 349.73 152.6 352C153.95 354.27 155.33 356.55 156.7 358.6C158.07 360.65 159.43 362.48 160.8 364.3C162.17 366.12 163.53 367.8 164.9 369.5C166.27 371.2 167.65 372.92 169 374.5C170.35 376.08 171.53 377.42 173 379C174.47 380.58 176.2 382.45 177.8 384C179.4 385.55 180.9 386.83 182.6 388.3C184.3 389.77 186.1 391.25 188 392.8C189.9 394.35 191.78 395.93 194 397.6C196.22 399.27 198.62 401.17 201.3 402.8C203.98 404.43 207.18 406.13 210.1 407.4C213.02 408.67 215.88 409.62 218.8 410.4C221.72 411.18 224.07 411.55 227.6 412.1C231.13 412.65 234.6 413.18 240 413.7C245.4 414.22 250 414.75 260 415.2C270 415.65 287.92 416.12 300 416.4C312.08 416.68 327.08 416.82 332.5 416.9" fill="none" stroke="#ffc000" stroke-width="1.5" stroke-linejoin="round" stroke-linecap="round" />
<path d="M42.5 413.8C42.72 413.57 43.22 412.95 43.8 412.4C44.38 411.85 45.2 411.18 46 410.5C46.8 409.82 47.8 409.38 48.6 408.3C49.4 407.22 50.12 405.88 50.8 404C51.48 402.12 52.13 400.17 52.7 397C53.27 393.83 53.77 390.33 54.2 385C54.63 379.67 54.92 371.67 55.3 365C55.68 358.33 56 352.83 56.5 345C57 337.17 57.72 325.83 58.3 318C58.88 310.17 59.43 303.67 60 298C60.57 292.33 61.12 288.33 61.7 284C62.28 279.67 62.87 275.67 63.5 272C64.13 268.33 64.83 264.42 65.5 262C66.17 259.58 66.83 258.45 67.5 257.5C68.17 256.55 68.83 256.3 69.5 256.3C70.17 256.3 70.75 256.63 71.5 257.5C72.25 258.37 73.17 260 74 261.5C74.83 263 75.82 265.38 76.5 266.5C77.18 267.62 77.52 268.28 78.1 268.2C78.68 268.12 79.27 267.53 80 266C80.73 264.47 81.75 261 82.5 259C83.25 257 83.83 255.2 84.5 254C85.17 252.8 85.75 251.88 86.5 251.8C87.25 251.72 88.05 252.45 89 253.5C89.95 254.55 91.12 256.18 92.2 258.1C93.28 260.02 94.37 262.27 95.5 265C96.63 267.73 97.83 270.83 99 274.5C100.17 278.17 101.37 282.92 102.5 287C103.63 291.08 104.55 294.93 105.8 299C107.05 303.07 108.4 307.32 110 311.4C111.6 315.48 113.22 318.32 115.4 323.5C117.58 328.68 120.53 336.5 123.1 342.5C125.67 348.5 128.82 355.5 130.8 359.5C132.78 363.5 133.47 364.17 135 366.5C136.53 368.83 137.95 370.82 140 373.5C142.05 376.18 144.87 379.77 147.3 382.6C149.73 385.43 152.17 388.07 154.6 390.5C157.03 392.93 159.47 395.23 161.9 397.2C164.33 399.17 166.77 400.77 169.2 402.3C171.63 403.83 174.07 405.23 176.5 406.4C178.93 407.57 181.37 408.47 183.8 409.3C186.23 410.13 188.67 410.73 191.1 411.4C193.53 412.07 195.97 412.82 198.4 413.3C200.83 413.78 203.27 413.98 205.7 414.3C208.13 414.62 209.35 414.93 213 415.2C216.65 415.47 223.1 415.7 227.6 415.9C232.1 416.1 232.93 416.25 240 416.4C247.07 416.55 254.58 416.7 270 416.8C285.42 416.9 322.08 416.97 332.5 417" fill="none" stroke="#4472c4" stroke-width="1.5" stroke-linejoin="round" stroke-linecap="round" />
<path d="M40.9 377C41.05 380.5 41.42 391.92 41.8 398C42.18 404.08 42.75 410.53 43.2 413.5C43.65 416.47 43.87 415.38 44.5 415.8C45.13 416.22 46.08 416.12 47 416C47.92 415.88 48.67 416.02 50 415.1C51.33 414.18 53.5 412.27 55 410.5C56.5 408.73 57.48 406.55 59 404.5C60.52 402.45 62.43 400.12 64.1 398.2C65.77 396.28 67.5 394.67 69 393C70.5 391.33 71.85 389.78 73.1 388.2C74.35 386.62 75.37 385.2 76.5 383.5C77.63 381.8 78.85 380 79.9 378C80.95 376 81.85 373.77 82.8 371.5C83.75 369.23 84.65 366.73 85.6 364.4C86.55 362.07 87.55 359.77 88.5 357.5C89.45 355.23 90.35 353.25 91.3 350.8C92.25 348.35 93.25 345.45 94.2 342.8C95.15 340.15 96.07 337.53 97 334.9C97.93 332.27 98.87 329.63 99.8 327C100.73 324.37 101.57 322.02 102.6 319.1C103.63 316.18 104.85 312.77 106 309.5C107.15 306.23 108.33 302.83 109.5 299.5C110.67 296.17 111.83 292.67 113 289.5C114.17 286.33 115.33 283.33 116.5 280.5C117.67 277.67 118.83 275 120 272.5C121.17 270 122.33 267.58 123.5 265.5C124.67 263.42 125.78 261.65 127 260C128.22 258.35 129.55 256.77 130.8 255.6C132.05 254.43 133.25 253.6 134.5 253C135.75 252.4 137.05 252.12 138.3 252C139.55 251.88 140.67 251.98 142 252.3C143.33 252.62 144.93 253.12 146.3 253.9C147.67 254.68 148.92 255.72 150.2 257C151.48 258.28 152.73 259.93 154 261.6C155.27 263.27 156.52 265.05 157.8 267C159.08 268.95 160.42 271.13 161.7 273.3C162.98 275.47 164.22 277.67 165.5 280C166.78 282.33 168.07 284.8 169.4 287.3C170.73 289.8 172.07 292.3 173.5 295C174.93 297.7 176.42 300.53 178 303.5C179.58 306.47 181.33 309.67 183 312.8C184.67 315.93 186.33 319.17 188 322.3C189.67 325.43 191.33 328.55 193 331.6C194.67 334.65 196.33 337.7 198 340.6C199.67 343.5 201.33 346.3 203 349C204.67 351.7 206.25 354.2 208 356.8C209.75 359.4 211.6 362.02 213.5 364.6C215.4 367.18 217.48 369.9 219.4 372.3C221.32 374.7 223.12 376.88 225 379C226.88 381.12 228.78 383.13 230.7 385C232.62 386.87 234.62 388.62 236.5 390.2C238.38 391.78 240.08 393.12 242 394.5C243.92 395.88 246.1 397.28 248 398.5C249.9 399.72 251.4 400.72 253.4 401.8C255.4 402.88 257.9 404.05 260 405C262.1 405.95 263.67 406.67 266 407.5C268.33 408.33 271.23 409.25 274 410C276.77 410.75 279.77 411.43 282.6 412C285.43 412.57 288.08 413 291 413.4C293.92 413.8 295.93 414.05 300.1 414.4C304.27 414.75 310.6 415.2 316 415.5C321.4 415.8 329.75 416.08 332.5 416.2" fill="none" stroke="#ff1a1a" stroke-width="1.5" stroke-linejoin="round" stroke-linecap="round" />
<path d="M274.9 339.8 L259.2 347.45 M259.2 347.45 L259.2 364.35 M259.2 364.35 L274.9 372 M274.9 372 L290.6 364.35 M290.6 364.35 L290.6 347.45 M290.6 347.45 L274.9 339.8 M290.6 347.45 L306.3 339.8 M306.3 339.8 L322 347.45 M322 347.45 L322 364.35 M322 364.35 L306.3 372 M306.3 372 L290.6 364.35 M287 348.04 L276.24 343 M261.46 350.11 L261.46 361.69 M276.24 368.8 L287 363.76 M307.64 343 L318.4 348.04 M318.4 363.76 L307.64 368.8" fill="none" stroke="#4a4a4a" stroke-width="0.9" stroke-linecap="round"/>
<line x1="306.3" y1="339.8" x2="306.3" y2="326.2" stroke="#4a4a4a" stroke-width="0.9" />
<line x1="304.5" y1="320.3" x2="304.5" y2="310.3" stroke="#4a4a4a" stroke-width="0.8" />
<line x1="306.5" y1="320.3" x2="306.5" y2="310.3" stroke="#4a4a4a" stroke-width="0.8" />
<line x1="308.5" y1="320.3" x2="308.5" y2="310.3" stroke="#4a4a4a" stroke-width="0.8" />
<text x="306.2" y="325.28" font-size="5.5" text-anchor="middle" font-weight="normal" fill="#2a2a2a" font-family="'Liberation Sans', sans-serif" >N</text>
<line x1="308.5" y1="321.2" x2="310.5" y2="321.2" stroke="#222" stroke-width="0.6" />
<line x1="309.5" y1="320.2" x2="309.5" y2="322.2" stroke="#222" stroke-width="0.6" />
<text x="306.2" y="309.28" font-size="5.5" text-anchor="middle" font-weight="normal" fill="#2a2a2a" font-family="'Liberation Sans', sans-serif" >C</text>
<line x1="308.3" y1="305.1" x2="310.3" y2="305.1" stroke="#222" stroke-width="0.6" />
<line x1="274.9" y1="372" x2="274.9" y2="385.6" stroke="#4a4a4a" stroke-width="0.9" />
<line x1="272.5" y1="391.5" x2="272.5" y2="401.5" stroke="#4a4a4a" stroke-width="0.8" />
<line x1="274.5" y1="391.5" x2="274.5" y2="401.5" stroke="#4a4a4a" stroke-width="0.8" />
<line x1="276.5" y1="391.5" x2="276.5" y2="401.5" stroke="#4a4a4a" stroke-width="0.8" />
<text x="274.8" y="390.48" font-size="5.5" text-anchor="middle" font-weight="normal" fill="#2a2a2a" font-family="'Liberation Sans', sans-serif" >N</text>
<line x1="277.1" y1="386.4" x2="279.1" y2="386.4" stroke="#222" stroke-width="0.6" />
<line x1="278.1" y1="385.4" x2="278.1" y2="387.4" stroke="#222" stroke-width="0.6" />
<text x="274.8" y="406.48" font-size="5.5" text-anchor="middle" font-weight="normal" fill="#2a2a2a" font-family="'Liberation Sans', sans-serif" >C</text>
<line x1="276.9" y1="402.3" x2="278.9" y2="402.3" stroke="#222" stroke-width="0.6" />
<text x="52.3" y="249.3" font-size="15.8" text-anchor="start" font-weight="bold" fill="#000" font-family="'Liberation Serif', serif" stroke="#000" stroke-width="0.22" >c</text>
<text x="74.6" y="247" font-size="11" text-anchor="start" font-weight="normal" fill="#1a1a1a" font-family="'Liberation Serif', serif" stroke="#1a1a1a" stroke-width="0.22" >348</text>
<text x="138" y="247" font-size="11" text-anchor="start" font-weight="normal" fill="#1a1a1a" font-family="'Liberation Serif', serif" stroke="#1a1a1a" stroke-width="0.22" >380</text>
<line x1="96.6" y1="242.1" x2="130" y2="242.1" stroke="#c00000" stroke-width="1.4" />
<path d="M133.7 242.1 L128.6 239.6 L128.6 244.6 Z" fill="#c00000"/>
<text x="0" y="0" font-size="11.5" text-anchor="middle" font-weight="normal" fill="#1a1a1a" font-family="'Liberation Serif', serif" stroke="#1a1a1a" stroke-width="0.22" transform="translate(9.2 328.4) rotate(-90)">FL Intensity (norm.)</text>
<text x="199.2" y="436.8" font-size="11.3" text-anchor="middle" font-weight="bold" fill="#111" font-family="'Liberation Serif', serif" stroke="#111" stroke-width="0.22" >&#955; (nm)</text>
<rect x="257.2" y="236.7" width="75.6" height="59.3" fill="#fff" stroke="#9fcf84" stroke-width="1.3"/>
<line x1="269.2" y1="246.6" x2="278.9" y2="246.6" stroke="#4472c4" stroke-width="1.6" />
<text x="279.7" y="250.4" font-size="11.3" text-anchor="start" font-weight="normal" fill="#1a1a1a" font-family="'Liberation Serif', serif" stroke="#1a1a1a" stroke-width="0.22" >Benzene</text>
<line x1="269.2" y1="266.25" x2="278.9" y2="266.25" stroke="#ffc000" stroke-width="1.6" />
<text x="279.7" y="270.05" font-size="11.3" text-anchor="start" font-weight="normal" fill="#1a1a1a" font-family="'Liberation Serif', serif" stroke="#1a1a1a" stroke-width="0.22" >Toluene</text>
<line x1="269.2" y1="285.9" x2="278.9" y2="285.9" stroke="#ff1a1a" stroke-width="1.6" />
<text x="279.7" y="289.7" font-size="11.3" text-anchor="start" font-weight="normal" fill="#1a1a1a" font-family="'Liberation Serif', serif" stroke="#1a1a1a" stroke-width="0.22" >p-Xylene</text>
<line x1="383.7" y1="233.4" x2="383.7" y2="415.25" stroke="#8a8a8a" stroke-width="1.5" />
<line x1="380.7" y1="414.5" x2="383.7" y2="414.5" stroke="#8a8a8a" stroke-width="1" />
<line x1="380.7" y1="379.9" x2="383.7" y2="379.9" stroke="#8a8a8a" stroke-width="1" />
<line x1="380.7" y1="345.3" x2="383.7" y2="345.3" stroke="#8a8a8a" stroke-width="1" />
<line x1="380.7" y1="310.7" x2="383.7" y2="310.7" stroke="#8a8a8a" stroke-width="1" />
<line x1="380.7" y1="276.1" x2="383.7" y2="276.1" stroke="#8a8a8a" stroke-width="1" />
<line x1="380.7" y1="241.5" x2="383.7" y2="241.5" stroke="#8a8a8a" stroke-width="1" />
<text x="376.2" y="417.7" font-size="9.4" text-anchor="end" font-weight="normal" fill="#1a1a1a" font-family="'Liberation Serif', serif" stroke="#1a1a1a" stroke-width="0.08" >0.00</text>
<text x="376.2" y="383.1" font-size="9.4" text-anchor="end" font-weight="normal" fill="#1a1a1a" font-family="'Liberation Serif', serif" stroke="#1a1a1a" stroke-width="0.08" >0.20</text>
<text x="376.2" y="348.5" font-size="9.4" text-anchor="end" font-weight="normal" fill="#1a1a1a" font-family="'Liberation Serif', serif" stroke="#1a1a1a" stroke-width="0.08" >0.40</text>
<text x="376.2" y="313.9" font-size="9.4" text-anchor="end" font-weight="normal" fill="#1a1a1a" font-family="'Liberation Serif', serif" stroke="#1a1a1a" stroke-width="0.08" >0.60</text>
<text x="376.2" y="279.3" font-size="9.4" text-anchor="end" font-weight="normal" fill="#1a1a1a" font-family="'Liberation Serif', serif" stroke="#1a1a1a" stroke-width="0.08" >0.80</text>
<text x="376.2" y="244.7" font-size="9.4" text-anchor="end" font-weight="normal" fill="#1a1a1a" font-family="'Liberation Serif', serif" stroke="#1a1a1a" stroke-width="0.08" >1.00</text>
<line x1="382.95" y1="414.5" x2="676.8" y2="414.5" stroke="#8a8a8a" stroke-width="1.5" />
<line x1="383.7" y1="414.5" x2="383.7" y2="417.5" stroke="#8a8a8a" stroke-width="1" />
<line x1="408.12" y1="414.5" x2="408.12" y2="417.5" stroke="#8a8a8a" stroke-width="1" />
<line x1="432.55" y1="414.5" x2="432.55" y2="417.5" stroke="#8a8a8a" stroke-width="1" />
<line x1="456.97" y1="414.5" x2="456.97" y2="417.5" stroke="#8a8a8a" stroke-width="1" />
<line x1="481.4" y1="414.5" x2="481.4" y2="417.5" stroke="#8a8a8a" stroke-width="1" />
<line x1="505.82" y1="414.5" x2="505.82" y2="417.5" stroke="#8a8a8a" stroke-width="1" />
<line x1="530.25" y1="414.5" x2="530.25" y2="417.5" stroke="#8a8a8a" stroke-width="1" />
<line x1="554.67" y1="414.5" x2="554.67" y2="417.5" stroke="#8a8a8a" stroke-width="1" />
<line x1="579.1" y1="414.5" x2="579.1" y2="417.5" stroke="#8a8a8a" stroke-width="1" />
<line x1="603.52" y1="414.5" x2="603.52" y2="417.5" stroke="#8a8a8a" stroke-width="1" />
<line x1="627.95" y1="414.5" x2="627.95" y2="417.5" stroke="#8a8a8a" stroke-width="1" />
<line x1="652.38" y1="414.5" x2="652.38" y2="417.5" stroke="#8a8a8a" stroke-width="1" />
<line x1="676.8" y1="414.5" x2="676.8" y2="417.5" stroke="#8a8a8a" stroke-width="1" />
<text x="383.7" y="429" font-size="9.4" text-anchor="middle" font-weight="normal" fill="#1a1a1a" font-family="'Liberation Serif', serif" stroke="#1a1a1a" stroke-width="0.08" >340</text>
<text x="432.55" y="429" font-size="9.4" text-anchor="middle" font-weight="normal" fill="#1a1a1a" font-family="'Liberation Serif', serif" stroke="#1a1a1a" stroke-width="0.08" >380</text>
<text x="481.4" y="429" font-size="9.4" text-anchor="middle" font-weight="normal" fill="#1a1a1a" font-family="'Liberation Serif', serif" stroke="#1a1a1a" stroke-width="0.08" >420</text>
<text x="530.25" y="429" font-size="9.4" text-anchor="middle" font-weight="normal" fill="#1a1a1a" font-family="'Liberation Serif', serif" stroke="#1a1a1a" stroke-width="0.08" >460</text>
<text x="579.1" y="429" font-size="9.4" text-anchor="middle" font-weight="normal" fill="#1a1a1a" font-family="'Liberation Serif', serif" stroke="#1a1a1a" stroke-width="0.08" >500</text>
<text x="627.95" y="429" font-size="9.4" text-anchor="middle" font-weight="normal" fill="#1a1a1a" font-family="'Liberation Serif', serif" stroke="#1a1a1a" stroke-width="0.08" >540</text>
<text x="676.8" y="429" font-size="9.4" text-anchor="middle" font-weight="normal" fill="#1a1a1a" font-family="'Liberation Serif', serif" stroke="#1a1a1a" stroke-width="0.08" >580</text>
<path d="M397.9 414.4C401.92 414.4 415.78 414.43 422 414.4C428.22 414.37 431.68 414.52 435.2 414.2C438.72 413.88 440.72 413.7 443.1 412.5C445.48 411.3 447.38 410.03 449.5 407C451.62 403.97 453.68 399.6 455.8 394.3C457.92 389 460.35 381.02 462.2 375.2C464.05 369.38 465.32 365.22 466.9 359.4C468.48 353.58 470.12 347.18 471.7 340.3C473.28 333.42 474.82 325.48 476.4 318.1C477.98 310.72 479.68 302.78 481.2 296C482.72 289.22 484.2 282.9 485.5 277.4C486.8 271.9 487.83 267.07 489 263C490.17 258.93 491.17 255.9 492.5 253C493.83 250.1 495.42 247.4 497 245.6C498.58 243.8 500.38 242.9 502 242.2C503.62 241.5 505.18 241.38 506.7 241.4C508.22 241.42 509.46 241.6 511.1 242.3C512.74 243 515.12 244.23 516.54 245.6C517.96 246.97 518.71 248.52 519.61 250.5C520.52 252.48 521.12 254.75 521.97 257.5C522.83 260.25 523.82 263.42 524.74 267C525.66 270.58 526.43 275.17 527.51 279C528.59 282.83 529.92 286.45 531.2 290C532.48 293.55 533.76 296.8 535.2 300.3C536.64 303.8 538.31 307.63 539.81 311C541.32 314.37 542.09 316.43 544.22 320.5C546.36 324.57 549.35 329.65 552.63 335.4C555.91 341.15 559.64 348.82 563.9 355C568.16 361.18 572.55 366.93 578.2 372.5C583.85 378.07 591.37 383.93 597.8 388.4C604.23 392.87 610.45 396.3 616.8 399.3C623.15 402.3 629.08 404.58 635.9 406.4C642.72 408.22 650.88 409.25 657.7 410.2C664.52 411.15 673.62 411.78 676.8 412.1" fill="none" stroke="#4472c4" stroke-width="1.25" stroke-linejoin="round" stroke-linecap="round" />
<path d="M396.9 414.4C400.92 414.4 414.78 414.43 421 414.4C427.22 414.37 430.68 414.52 434.2 414.2C437.72 413.88 439.72 413.7 442.1 412.5C444.48 411.3 446.38 410.03 448.5 407C450.62 403.97 452.68 399.6 454.8 394.3C456.92 389 459.35 381.02 461.2 375.2C463.05 369.38 464.32 365.22 465.9 359.4C467.48 353.58 469.12 347.18 470.7 340.3C472.28 333.42 473.82 325.48 475.4 318.1C476.98 310.72 478.68 302.78 480.2 296C481.72 289.22 483.2 282.9 484.5 277.4C485.8 271.9 486.83 267.07 488 263C489.17 258.93 490.17 255.9 491.5 253C492.83 250.1 494.42 247.4 496 245.6C497.58 243.8 499.38 242.9 501 242.2C502.62 241.5 504.19 241.38 505.7 241.4C507.21 241.42 508.43 241.6 510.05 242.3C511.67 243 514.02 244.23 515.42 245.6C516.82 246.97 517.56 248.52 518.46 250.5C519.35 252.48 519.94 254.75 520.79 257.5C521.63 260.25 522.61 263.42 523.52 267C524.43 270.58 525.19 275.17 526.25 279C527.32 282.83 528.63 286.45 529.9 290C531.17 293.55 532.43 296.8 533.85 300.3C535.27 303.8 536.92 307.63 538.41 311C539.89 314.37 540.65 316.43 542.76 320.5C544.87 324.57 547.83 329.65 551.07 335.4C554.31 341.15 557.96 348.82 562.2 355C566.44 361.18 570.85 366.93 576.5 372.5C582.15 378.07 589.67 383.93 596.1 388.4C602.53 392.87 608.75 396.3 615.1 399.3C621.45 402.3 627.38 404.58 634.2 406.4C641.02 408.22 648.9 409.25 656 410.2C663.1 411.15 673.33 411.78 676.8 412.1" fill="none" stroke="#ffc000" stroke-width="1.25" stroke-linejoin="round" stroke-linecap="round" />
<path d="M395.9 414.4C399.92 414.4 413.78 414.43 420 414.4C426.22 414.37 429.68 414.52 433.2 414.2C436.72 413.88 438.72 413.7 441.1 412.5C443.48 411.3 445.38 410.03 447.5 407C449.62 403.97 451.68 399.6 453.8 394.3C455.92 389 458.35 381.02 460.2 375.2C462.05 369.38 463.32 365.22 464.9 359.4C466.48 353.58 468.12 347.18 469.7 340.3C471.28 333.42 472.82 325.48 474.4 318.1C475.98 310.72 477.68 302.78 479.2 296C480.72 289.22 482.2 282.9 483.5 277.4C484.8 271.9 485.83 267.07 487 263C488.17 258.93 489.17 255.9 490.5 253C491.83 250.1 493.42 247.4 495 245.6C496.58 243.8 498.38 242.9 500 242.2C501.62 241.5 503.2 241.38 504.7 241.4C506.2 241.42 507.4 241.6 509 242.3C510.6 243 512.92 244.23 514.3 245.6C515.68 246.97 516.42 248.52 517.3 250.5C518.18 252.48 518.77 254.75 519.6 257.5C520.43 260.25 521.4 263.42 522.3 267C523.2 270.58 523.95 275.17 525 279C526.05 282.83 527.35 286.45 528.6 290C529.85 293.55 531.1 296.8 532.5 300.3C533.9 303.8 535.53 307.63 537 311C538.47 314.37 539.22 316.43 541.3 320.5C543.38 324.57 546.3 329.65 549.5 335.4C552.7 341.15 556.28 348.82 560.5 355C564.72 361.18 569.15 366.93 574.8 372.5C580.45 378.07 587.97 383.93 594.4 388.4C600.83 392.87 607.05 396.3 613.4 399.3C619.75 402.3 625.68 404.58 632.5 406.4C639.32 408.22 646.93 409.25 654.3 410.2C661.67 411.15 672.97 411.78 676.7 412.1" fill="none" stroke="#ff1a1a" stroke-width="1.25" stroke-linejoin="round" stroke-linecap="round" />
<path d="M397.9 414.4C401.92 414.4 415.78 414.43 422 414.4C428.22 414.37 431.68 414.52 435.2 414.2C438.72 413.88 441.78 412.78 443.1 412.5" fill="none" stroke="#4472c4" stroke-width="1.1" stroke-linejoin="round" stroke-linecap="round" />
<path d="M385 413.3C385.33 413 386.27 412.47 387 411.5C387.73 410.53 388.7 409.17 389.4 407.5C390.1 405.83 390.63 403.85 391.2 401.5C391.77 399.15 392.2 396.98 392.8 393.4C393.4 389.82 394.12 385.43 394.8 380C395.48 374.57 396.25 367.97 396.9 360.8C397.55 353.63 398.13 344.55 398.7 337C399.27 329.45 399.82 321.83 400.3 315.5C400.78 309.17 401.18 304.25 401.6 299C402.02 293.75 402.37 288.92 402.8 284C403.23 279.08 403.57 273.83 404.2 269.5C404.83 265.17 405.9 261.07 406.6 258C407.3 254.93 407.9 251.97 408.4 251.1C408.9 250.23 409.1 252.07 409.6 252.8C410.1 253.53 410.67 254.82 411.4 255.5C412.13 256.18 413.2 257.02 414 256.9C414.8 256.78 415.33 255.75 416.2 254.8C417.07 253.85 418.22 252.78 419.2 251.2C420.18 249.62 421.05 246.9 422.1 245.3C423.15 243.7 424.52 241.97 425.5 241.6C426.48 241.23 427.08 241.75 428 243.1C428.92 244.45 430.02 246.87 431 249.7C431.98 252.53 432.92 256.65 433.9 260.1C434.88 263.55 435.78 266.23 436.9 270.4C438.02 274.57 439.5 280.67 440.6 285.1C441.7 289.53 442.45 292.85 443.5 297C444.55 301.15 445.28 304.42 446.9 310C448.52 315.58 451.08 324.25 453.2 330.5C455.32 336.75 457.48 342.17 459.6 347.5C461.72 352.83 463.78 357.88 465.9 362.5C468.02 367.12 469.65 370.97 472.3 375.2C474.95 379.43 478.1 383.93 481.8 387.9C485.5 391.87 490.5 396.22 494.5 399C498.5 401.78 501.72 402.97 505.8 404.6C509.88 406.23 514.47 407.7 519 408.8C523.53 409.9 526.17 410.53 533 411.2C539.83 411.87 548.67 412.33 560 412.8C571.33 413.27 581.53 413.73 601 414C620.47 414.27 664.17 414.33 676.8 414.4" fill="none" stroke="#4472c4" stroke-width="1.25" stroke-linejoin="round" stroke-linecap="round" />
<path d="M384.5 413.3C384.83 413 385.77 412.47 386.5 411.5C387.23 410.53 388.2 409.17 388.9 407.5C389.6 405.83 390.13 403.85 390.7 401.5C391.27 399.15 391.7 396.98 392.3 393.4C392.9 389.82 393.62 385.43 394.3 380C394.98 374.57 395.75 367.97 396.4 360.8C397.05 353.63 397.63 344.55 398.2 337C398.77 329.45 399.32 321.83 399.8 315.5C400.28 309.17 400.68 304.25 401.1 299C401.52 293.75 401.87 288.92 402.3 284C402.73 279.08 403.07 273.83 403.7 269.5C404.33 265.17 405.4 260.83 406.1 258C406.8 255.17 407.4 253.13 407.9 252.5C408.4 251.87 408.6 253.53 409.1 254.2C409.6 254.87 410.17 255.88 410.9 256.5C411.63 257.12 412.7 258.02 413.5 257.9C414.3 257.78 414.83 256.92 415.7 255.8C416.57 254.68 417.72 252.95 418.7 251.2C419.68 249.45 420.55 246.9 421.6 245.3C422.65 243.7 424.02 241.97 425 241.6C425.98 241.23 426.58 241.75 427.5 243.1C428.42 244.45 429.52 246.87 430.5 249.7C431.48 252.53 432.42 256.65 433.4 260.1C434.38 263.55 435.28 266.23 436.4 270.4C437.52 274.57 439 280.67 440.1 285.1C441.2 289.53 441.95 292.85 443 297C444.05 301.15 444.78 304.42 446.4 310C448.02 315.58 450.58 324.25 452.7 330.5C454.82 336.75 456.98 342.17 459.1 347.5C461.22 352.83 463.28 357.88 465.4 362.5C467.52 367.12 469.15 370.97 471.8 375.2C474.45 379.43 477.6 383.93 481.3 387.9C485 391.87 490 396.22 494 399C498 401.78 501.22 402.97 505.3 404.6C509.38 406.23 513.97 407.7 518.5 408.8C523.03 409.9 525.67 410.53 532.5 411.2C539.33 411.87 548.17 412.33 559.5 412.8C570.83 413.27 580.95 413.73 600.5 414C620.05 414.27 664.08 414.33 676.8 414.4" fill="none" stroke="#ffc000" stroke-width="1.25" stroke-linejoin="round" stroke-linecap="round" />
<path d="M384 413.3C384.33 413 385.27 412.47 386 411.5C386.73 410.53 387.7 409.17 388.4 407.5C389.1 405.83 389.63 403.85 390.2 401.5C390.77 399.15 391.2 396.98 391.8 393.4C392.4 389.82 393.12 385.43 393.8 380C394.48 374.57 395.25 367.97 395.9 360.8C396.55 353.63 397.13 344.55 397.7 337C398.27 329.45 398.82 321.83 399.3 315.5C399.78 309.17 400.18 304.25 400.6 299C401.02 293.75 401.37 288.92 401.8 284C402.23 279.08 402.57 273.83 403.2 269.5C403.83 265.17 404.9 260.7 405.6 258C406.3 255.3 406.9 253.8 407.4 253.3C407.9 252.8 408.1 254.3 408.6 255C409.1 255.7 409.67 256.85 410.4 257.5C411.13 258.15 412.2 259.02 413 258.9C413.8 258.78 414.33 258.08 415.2 256.8C416.07 255.52 417.22 253.12 418.2 251.2C419.18 249.28 420.05 246.9 421.1 245.3C422.15 243.7 423.52 241.97 424.5 241.6C425.48 241.23 426.08 241.75 427 243.1C427.92 244.45 429.02 246.87 430 249.7C430.98 252.53 431.92 256.65 432.9 260.1C433.88 263.55 434.78 266.23 435.9 270.4C437.02 274.57 438.5 280.67 439.6 285.1C440.7 289.53 441.45 292.85 442.5 297C443.55 301.15 444.28 304.42 445.9 310C447.52 315.58 450.08 324.25 452.2 330.5C454.32 336.75 456.48 342.17 458.6 347.5C460.72 352.83 462.78 357.88 464.9 362.5C467.02 367.12 468.65 370.97 471.3 375.2C473.95 379.43 477.1 383.93 480.8 387.9C484.5 391.87 489.5 396.22 493.5 399C497.5 401.78 500.72 402.97 504.8 404.6C508.88 406.23 513.47 407.7 518 408.8C522.53 409.9 525.17 410.53 532 411.2C538.83 411.87 547.67 412.33 559 412.8C570.33 413.27 580.38 413.73 600 414C619.62 414.27 663.92 414.33 676.7 414.4" fill="none" stroke="#ff1a1a" stroke-width="1.25" stroke-linejoin="round" stroke-linecap="round" />
<path d="M413.57 349.68 L398.34 357.1 M398.34 357.1 L398.34 373.5 M398.34 373.5 L413.57 380.92 M413.57 380.92 L428.8 373.5 M428.8 373.5 L428.8 357.1 M428.8 357.1 L413.57 349.68 M428.8 357.1 L444.03 349.68 M444.03 349.68 L459.26 357.1 M459.26 357.1 L459.26 373.5 M459.26 373.5 L444.03 380.92 M444.03 380.92 L428.8 373.5 M425.31 357.67 L414.87 352.78 M400.53 359.69 L400.53 370.91 M414.87 377.82 L425.31 372.93 M445.33 352.78 L455.76 357.67 M455.76 372.93 L445.33 377.82" fill="none" stroke="#5a5a5a" stroke-width="0.9" stroke-linecap="round"/>
<line x1="444.03" y1="349.68" x2="444.03" y2="338.53" stroke="#5a5a5a" stroke-width="0.9" />
<text x="441.89" y="336.37" font-size="5.33" fill="#333" font-family="'Liberation Sans', sans-serif">NH<tspan font-size="3.73" dy="1">2</tspan></text>
<line x1="413.57" y1="380.92" x2="413.57" y2="392.07" stroke="#5a5a5a" stroke-width="0.9" />
<text x="411.44" y="398.07" font-size="5.33" fill="#333" font-family="'Liberation Sans', sans-serif">NH<tspan font-size="3.73" dy="1">2</tspan></text>
<path d="M498.27 348.88 L483.04 356.3 M483.04 356.3 L483.04 372.7 M483.04 372.7 L498.27 380.12 M498.27 380.12 L513.5 372.7 M513.5 372.7 L513.5 356.3 M513.5 356.3 L498.27 348.88 M513.5 356.3 L528.73 348.88 M528.73 348.88 L543.96 356.3 M543.96 356.3 L543.96 372.7 M543.96 372.7 L528.73 380.12 M528.73 380.12 L513.5 372.7 M510.01 356.87 L499.57 351.98 M485.23 358.89 L485.23 370.11 M499.57 377.02 L510.01 372.13 M530.03 351.98 L540.46 356.87 M540.46 372.13 L530.03 377.02" fill="none" stroke="#5a5a5a" stroke-width="0.9" stroke-linecap="round"/>
<line x1="528.73" y1="348.88" x2="528.73" y2="335.69" stroke="#5a5a5a" stroke-width="0.9" />
<line x1="526.5" y1="329.97" x2="526.5" y2="320.27" stroke="#5a5a5a" stroke-width="0.8" />
<line x1="528.5" y1="329.97" x2="528.5" y2="320.27" stroke="#5a5a5a" stroke-width="0.8" />
<line x1="530.5" y1="329.97" x2="530.5" y2="320.27" stroke="#5a5a5a" stroke-width="0.8" />
<text x="528.63" y="334.8" font-size="5.33" text-anchor="middle" font-weight="normal" fill="#2a2a2a" font-family="'Liberation Sans', sans-serif" >N</text>
<line x1="530.83" y1="330.84" x2="532.83" y2="330.84" stroke="#222" stroke-width="0.6" />
<line x1="531.83" y1="329.84" x2="531.83" y2="331.84" stroke="#222" stroke-width="0.6" />
<text x="528.63" y="319.28" font-size="5.33" text-anchor="middle" font-weight="normal" fill="#2a2a2a" font-family="'Liberation Sans', sans-serif" >C</text>
<line x1="530.64" y1="315.22" x2="532.64" y2="315.22" stroke="#222" stroke-width="0.6" />
<line x1="498.27" y1="380.12" x2="498.27" y2="391.27" stroke="#5a5a5a" stroke-width="0.9" />
<text x="496.14" y="397.27" font-size="5.33" fill="#333" font-family="'Liberation Sans', sans-serif">NH<tspan font-size="3.73" dy="1">2</tspan></text>
<text x="455.5" y="249.5" font-size="15.2" text-anchor="start" font-weight="bold" fill="#000" font-family="'Liberation Serif', serif" stroke="#000" stroke-width="0.22" >d</text>
<text x="407.4" y="307.7" font-size="11" text-anchor="start" font-weight="normal" fill="#1a1a1a" font-family="'Liberation Serif', serif" stroke="#1a1a1a" stroke-width="0.22" >DAN</text>
<text x="495.4" y="307.7" font-size="11" text-anchor="start" font-weight="normal" fill="#1a1a1a" font-family="'Liberation Serif', serif" stroke="#1a1a1a" stroke-width="0.22" >ICAN</text>
<text x="0" y="0" font-size="11.5" text-anchor="middle" font-weight="normal" fill="#1a1a1a" font-family="'Liberation Serif', serif" stroke="#1a1a1a" stroke-width="0.22" transform="translate(356.0 325.85) rotate(-90)">FL Intensity (norm.)</text>
<text x="506.6" y="436.9" font-size="9.4" text-anchor="middle" font-weight="bold" fill="#111" font-family="'Liberation Serif', serif" stroke="#111" stroke-width="0.08" >&#955; (nm)</text>
<rect x="594.3" y="233.3" width="82.4" height="60.5" fill="#fff" stroke="#9ad070" stroke-width="1.3"/>
<line x1="610" y1="243.5" x2="619.4" y2="243.5" stroke="#4472c4" stroke-width="1.4" />
<text x="620.5" y="247.3" font-size="11.3" text-anchor="start" font-weight="normal" fill="#1a1a1a" font-family="'Liberation Serif', serif" stroke="#1a1a1a" stroke-width="0.22" >Benzene</text>
<line x1="610" y1="263.8" x2="619.4" y2="263.8" stroke="#ffc000" stroke-width="1.4" />
<text x="620.5" y="267.6" font-size="11.3" text-anchor="start" font-weight="normal" fill="#1a1a1a" font-family="'Liberation Serif', serif" stroke="#1a1a1a" stroke-width="0.22" >Toluene</text>
<line x1="610" y1="284.1" x2="619.4" y2="284.1" stroke="#ff1a1a" stroke-width="1.4" />
<text x="620.5" y="287.9" font-size="11.3" text-anchor="start" font-weight="normal" fill="#1a1a1a" font-family="'Liberation Serif', serif" stroke="#1a1a1a" stroke-width="0.22" >p-Xylene</text>
</svg>
</body></html>
